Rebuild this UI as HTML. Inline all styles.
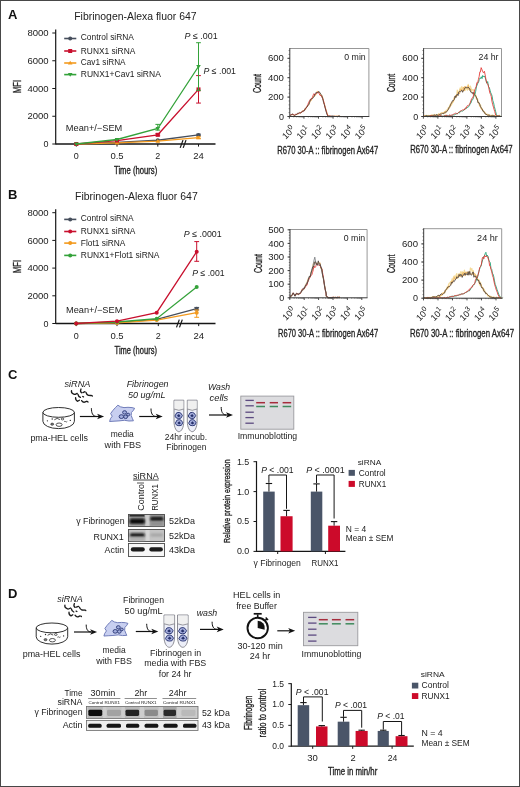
<!DOCTYPE html>
<html><head><meta charset="utf-8"><title>Figure</title>
<style>
html,body{margin:0;padding:0;background:#fff;}
body{width:520px;height:787px;overflow:hidden;}
svg{display:block;filter:blur(0.3px);}
svg text{font-family:"Liberation Sans",sans-serif;}
</style></head>
<body>
<svg width="520" height="787" viewBox="0 0 520 787" font-family="Liberation Sans, sans-serif">
<rect x="0" y="0" width="520" height="787" fill="#fff"/>
<defs><filter id="bl" x="-30%" y="-60%" width="160%" height="220%"><feGaussianBlur stdDeviation="0.9"/></filter><filter id="bl2" x="-30%" y="-60%" width="160%" height="220%"><feGaussianBlur stdDeviation="0.6"/></filter></defs>
<text x="7.90" y="19.30" font-size="13.0" font-weight="bold" fill="#111">A</text>
<text x="74.20" y="19.90" font-size="10" textLength="122.40" lengthAdjust="spacingAndGlyphs" fill="#222">Fibrinogen-Alexa fluor 647</text>
<line x1="55.70" y1="29.60" x2="55.70" y2="144.60" stroke="#161616" stroke-width="1.2"/>
<line x1="52.30" y1="144.00" x2="55.70" y2="144.00" stroke="#161616" stroke-width="1"/>
<text x="43.60" y="147.10" font-size="9.0" textLength="5.00" lengthAdjust="spacingAndGlyphs" fill="#222">0</text>
<line x1="52.30" y1="116.25" x2="55.70" y2="116.25" stroke="#161616" stroke-width="1"/>
<text x="27.40" y="119.35" font-size="9.0" textLength="21.20" lengthAdjust="spacingAndGlyphs" fill="#222">2000</text>
<line x1="52.30" y1="88.50" x2="55.70" y2="88.50" stroke="#161616" stroke-width="1"/>
<text x="27.40" y="91.60" font-size="9.0" textLength="21.20" lengthAdjust="spacingAndGlyphs" fill="#222">4000</text>
<line x1="52.30" y1="60.75" x2="55.70" y2="60.75" stroke="#161616" stroke-width="1"/>
<text x="27.40" y="63.85" font-size="9.0" textLength="21.20" lengthAdjust="spacingAndGlyphs" fill="#222">6000</text>
<line x1="52.30" y1="33.00" x2="55.70" y2="33.00" stroke="#161616" stroke-width="1"/>
<text x="27.40" y="36.10" font-size="9.0" textLength="21.20" lengthAdjust="spacingAndGlyphs" fill="#222">8000</text>
<line x1="55.70" y1="144.00" x2="215.50" y2="144.00" stroke="#161616" stroke-width="1.3"/>
<line x1="76.30" y1="144.00" x2="76.30" y2="146.60" stroke="#161616" stroke-width="1"/>
<text x="73.80" y="158.60" font-size="9.0" textLength="5.00" lengthAdjust="spacingAndGlyphs" fill="#222">0</text>
<line x1="117.00" y1="144.00" x2="117.00" y2="146.60" stroke="#161616" stroke-width="1"/>
<text x="110.40" y="158.60" font-size="9.0" textLength="13.20" lengthAdjust="spacingAndGlyphs" fill="#222">0.5</text>
<line x1="157.80" y1="144.00" x2="157.80" y2="146.60" stroke="#161616" stroke-width="1"/>
<text x="155.30" y="158.60" font-size="9.0" textLength="5.00" lengthAdjust="spacingAndGlyphs" fill="#222">2</text>
<line x1="198.50" y1="144.00" x2="198.50" y2="146.60" stroke="#161616" stroke-width="1"/>
<text x="193.20" y="158.60" font-size="9.0" textLength="10.60" lengthAdjust="spacingAndGlyphs" fill="#222">24</text>
<line x1="180.20" y1="147.90" x2="183.00" y2="140.10" stroke="#161616" stroke-width="1.2"/>
<line x1="183.20" y1="147.90" x2="186.00" y2="140.10" stroke="#161616" stroke-width="1.2"/>
<text x="114.00" y="173.70" font-size="10.0" textLength="43.20" lengthAdjust="spacingAndGlyphs" stroke="#222" stroke-width="0.33" fill="#222">Time (hours)</text>
<text transform="translate(20.60,92.90) rotate(-90)" x="0" y="0" font-size="10.8" textLength="12.90" lengthAdjust="spacingAndGlyphs" stroke="#222" stroke-width="0.33" fill="#222">MFI</text>
<text x="65.80" y="130.60" font-size="8.9" textLength="56.50" lengthAdjust="spacingAndGlyphs" fill="#222">Mean+/−SEM</text>
<line x1="64.20" y1="38.50" x2="76.30" y2="38.50" stroke="#464e5c" stroke-width="1.6"/>
<circle cx="70.20" cy="38.50" r="2" fill="#464e5c"/>
<text x="80.80" y="40.40" font-size="8.6" textLength="53.10" lengthAdjust="spacingAndGlyphs" fill="#222">Control siRNA</text>
<line x1="64.20" y1="51.00" x2="76.30" y2="51.00" stroke="#c8102e" stroke-width="1.6"/>
<rect x="68.20" y="49.00" width="4.00" height="4.00" fill="#c8102e" />
<text x="80.80" y="53.50" font-size="8.6" textLength="54.50" lengthAdjust="spacingAndGlyphs" fill="#222">RUNX1 siRNA</text>
<line x1="64.20" y1="63.00" x2="76.30" y2="63.00" stroke="#f39a1e" stroke-width="1.6"/>
<path d="M67.90,64.60 L72.50,64.60 L70.20,60.80 Z" fill="#f39a1e"/>
<text x="80.80" y="65.30" font-size="8.6" textLength="44.80" lengthAdjust="spacingAndGlyphs" fill="#222">Cav1 siRNA</text>
<line x1="64.20" y1="74.60" x2="76.30" y2="74.60" stroke="#34a23a" stroke-width="1.6"/>
<path d="M67.90,73.00 L72.50,73.00 L70.20,76.80 Z" fill="#34a23a"/>
<text x="80.80" y="77.10" font-size="8.6" textLength="80.00" lengthAdjust="spacingAndGlyphs" fill="#222">RUNX1+Cav1 siRNA</text>
<path d="M76.30,144.00 L117.00,142.34 L157.80,140.25 L198.50,134.98" stroke="#464e5c" stroke-width="1.3" fill="none" />
<line x1="198.50" y1="134.15" x2="198.50" y2="135.81" stroke="#464e5c" stroke-width="1"/>
<line x1="196.10" y1="134.15" x2="200.90" y2="134.15" stroke="#464e5c" stroke-width="1"/>
<line x1="196.10" y1="135.81" x2="200.90" y2="135.81" stroke="#464e5c" stroke-width="1"/>
<circle cx="76.30" cy="144.00" r="2" fill="#464e5c"/>
<circle cx="117.00" cy="142.34" r="2" fill="#464e5c"/>
<circle cx="157.80" cy="140.25" r="2" fill="#464e5c"/>
<circle cx="198.50" cy="134.98" r="2" fill="#464e5c"/>
<path d="M76.30,144.00 L117.00,142.82 L157.80,141.10 L198.50,137.70" stroke="#f39a1e" stroke-width="1.3" fill="none" />
<line x1="198.50" y1="136.78" x2="198.50" y2="138.59" stroke="#f39a1e" stroke-width="1"/>
<line x1="196.10" y1="136.78" x2="200.90" y2="136.78" stroke="#f39a1e" stroke-width="1"/>
<line x1="196.10" y1="138.59" x2="200.90" y2="138.59" stroke="#f39a1e" stroke-width="1"/>
<path d="M74.00,145.60 L78.60,145.60 L76.30,141.80 Z" fill="#f39a1e"/>
<path d="M114.70,144.42 L119.30,144.42 L117.00,140.62 Z" fill="#f39a1e"/>
<path d="M155.50,142.70 L160.10,142.70 L157.80,138.90 Z" fill="#f39a1e"/>
<path d="M196.20,139.30 L200.80,139.30 L198.50,135.50 Z" fill="#f39a1e"/>
<path d="M76.30,144.00 L117.00,140.53 L157.80,134.80 L198.50,89.40" stroke="#c8102e" stroke-width="1.3" fill="none" />
<line x1="157.80" y1="133.73" x2="157.80" y2="135.81" stroke="#c8102e" stroke-width="1"/>
<line x1="155.40" y1="133.73" x2="160.20" y2="133.73" stroke="#c8102e" stroke-width="1"/>
<line x1="155.40" y1="135.81" x2="160.20" y2="135.81" stroke="#c8102e" stroke-width="1"/>
<line x1="198.50" y1="75.60" x2="198.50" y2="103.07" stroke="#c8102e" stroke-width="1"/>
<line x1="196.10" y1="75.60" x2="200.90" y2="75.60" stroke="#c8102e" stroke-width="1"/>
<line x1="196.10" y1="103.07" x2="200.90" y2="103.07" stroke="#c8102e" stroke-width="1"/>
<rect x="74.30" y="142.00" width="4.00" height="4.00" fill="#c8102e" />
<rect x="115.00" y="138.53" width="4.00" height="4.00" fill="#c8102e" />
<rect x="155.80" y="132.80" width="4.00" height="4.00" fill="#c8102e" />
<rect x="196.50" y="87.40" width="4.00" height="4.00" fill="#c8102e" />
<path d="M76.30,144.00 L117.00,139.49 L157.80,128.50 L198.50,66.51" stroke="#34a23a" stroke-width="1.3" fill="none" />
<line x1="157.80" y1="124.39" x2="157.80" y2="130.12" stroke="#34a23a" stroke-width="1"/>
<line x1="155.40" y1="124.39" x2="160.20" y2="124.39" stroke="#34a23a" stroke-width="1"/>
<line x1="155.40" y1="130.12" x2="160.20" y2="130.12" stroke="#34a23a" stroke-width="1"/>
<line x1="198.50" y1="42.71" x2="198.50" y2="90.30" stroke="#34a23a" stroke-width="1"/>
<line x1="196.10" y1="42.71" x2="200.90" y2="42.71" stroke="#34a23a" stroke-width="1"/>
<line x1="196.10" y1="90.30" x2="200.90" y2="90.30" stroke="#34a23a" stroke-width="1"/>
<path d="M74.00,142.40 L78.60,142.40 L76.30,146.20 Z" fill="#34a23a"/>
<path d="M114.70,137.89 L119.30,137.89 L117.00,141.69 Z" fill="#34a23a"/>
<path d="M155.50,126.90 L160.10,126.90 L157.80,130.70 Z" fill="#34a23a"/>
<path d="M196.20,64.91 L200.80,64.91 L198.50,68.71 Z" fill="#34a23a"/>
<text x="184.60" y="39.00" font-size="9.0" textLength="33.10" lengthAdjust="spacingAndGlyphs" fill="#222"><tspan font-style="italic">P</tspan> ≤ .001</text>
<text x="203.50" y="74.20" font-size="9.0" textLength="32.50" lengthAdjust="spacingAndGlyphs" fill="#222"><tspan font-style="italic">P</tspan> ≤ .001</text>
<text x="7.90" y="199.20" font-size="13.0" font-weight="bold" fill="#111">B</text>
<text x="75.00" y="199.80" font-size="10" textLength="122.70" lengthAdjust="spacingAndGlyphs" fill="#222">Fibrinogen-Alexa fluor 647</text>
<line x1="55.70" y1="209.30" x2="55.70" y2="324.10" stroke="#161616" stroke-width="1.2"/>
<line x1="52.30" y1="323.50" x2="55.70" y2="323.50" stroke="#161616" stroke-width="1"/>
<text x="43.60" y="326.60" font-size="9.0" textLength="5.00" lengthAdjust="spacingAndGlyphs" fill="#222">0</text>
<line x1="52.30" y1="295.80" x2="55.70" y2="295.80" stroke="#161616" stroke-width="1"/>
<text x="27.40" y="298.90" font-size="9.0" textLength="21.20" lengthAdjust="spacingAndGlyphs" fill="#222">2000</text>
<line x1="52.30" y1="268.10" x2="55.70" y2="268.10" stroke="#161616" stroke-width="1"/>
<text x="27.40" y="271.20" font-size="9.0" textLength="21.20" lengthAdjust="spacingAndGlyphs" fill="#222">4000</text>
<line x1="52.30" y1="240.40" x2="55.70" y2="240.40" stroke="#161616" stroke-width="1"/>
<text x="27.40" y="243.50" font-size="9.0" textLength="21.20" lengthAdjust="spacingAndGlyphs" fill="#222">6000</text>
<line x1="52.30" y1="212.70" x2="55.70" y2="212.70" stroke="#161616" stroke-width="1"/>
<text x="27.40" y="215.80" font-size="9.0" textLength="21.20" lengthAdjust="spacingAndGlyphs" fill="#222">8000</text>
<line x1="55.70" y1="323.50" x2="215.50" y2="323.50" stroke="#161616" stroke-width="1.3"/>
<line x1="76.30" y1="323.50" x2="76.30" y2="326.10" stroke="#161616" stroke-width="1"/>
<text x="73.80" y="339.00" font-size="9.0" textLength="5.00" lengthAdjust="spacingAndGlyphs" fill="#222">0</text>
<line x1="117.00" y1="323.50" x2="117.00" y2="326.10" stroke="#161616" stroke-width="1"/>
<text x="110.40" y="339.00" font-size="9.0" textLength="13.20" lengthAdjust="spacingAndGlyphs" fill="#222">0.5</text>
<line x1="158.30" y1="323.50" x2="158.30" y2="326.10" stroke="#161616" stroke-width="1"/>
<text x="155.80" y="339.00" font-size="9.0" textLength="5.00" lengthAdjust="spacingAndGlyphs" fill="#222">2</text>
<line x1="198.70" y1="323.50" x2="198.70" y2="326.10" stroke="#161616" stroke-width="1"/>
<text x="193.40" y="339.00" font-size="9.0" textLength="10.60" lengthAdjust="spacingAndGlyphs" fill="#222">24</text>
<line x1="176.50" y1="327.40" x2="179.30" y2="319.60" stroke="#161616" stroke-width="1.2"/>
<line x1="179.50" y1="327.40" x2="182.30" y2="319.60" stroke="#161616" stroke-width="1.2"/>
<text x="114.60" y="354.20" font-size="10.0" textLength="42.30" lengthAdjust="spacingAndGlyphs" stroke="#222" stroke-width="0.33" fill="#222">Time (hours)</text>
<text transform="translate(20.60,272.90) rotate(-90)" x="0" y="0" font-size="10.8" textLength="12.90" lengthAdjust="spacingAndGlyphs" stroke="#222" stroke-width="0.33" fill="#222">MFI</text>
<text x="66.00" y="312.90" font-size="8.9" textLength="56.30" lengthAdjust="spacingAndGlyphs" fill="#222">Mean+/−SEM</text>
<line x1="64.20" y1="219.40" x2="76.30" y2="219.40" stroke="#464e5c" stroke-width="1.6"/>
<circle cx="70.20" cy="219.40" r="2" fill="#464e5c"/>
<text x="80.80" y="221.40" font-size="8.6" textLength="52.90" lengthAdjust="spacingAndGlyphs" fill="#222">Control siRNA</text>
<line x1="64.20" y1="231.50" x2="76.30" y2="231.50" stroke="#c8102e" stroke-width="1.6"/>
<circle cx="70.20" cy="231.50" r="2" fill="#c8102e"/>
<text x="80.80" y="234.20" font-size="8.6" textLength="54.60" lengthAdjust="spacingAndGlyphs" fill="#222">RUNX1 siRNA</text>
<line x1="64.20" y1="243.10" x2="76.30" y2="243.10" stroke="#f39a1e" stroke-width="1.6"/>
<circle cx="70.20" cy="243.10" r="2" fill="#f39a1e"/>
<text x="80.80" y="246.00" font-size="8.6" textLength="44.60" lengthAdjust="spacingAndGlyphs" fill="#222">Flot1 siRNA</text>
<line x1="64.20" y1="255.40" x2="76.30" y2="255.40" stroke="#34a23a" stroke-width="1.6"/>
<circle cx="70.20" cy="255.40" r="2" fill="#34a23a"/>
<text x="80.80" y="257.90" font-size="8.6" textLength="78.70" lengthAdjust="spacingAndGlyphs" fill="#222">RUNX1+Flot1 siRNA</text>
<path d="M76.20,323.50 L117.00,322.67 L156.70,319.48 L196.70,308.69" stroke="#464e5c" stroke-width="1.3" fill="none" />
<line x1="196.70" y1="307.43" x2="196.70" y2="309.93" stroke="#464e5c" stroke-width="1"/>
<line x1="194.30" y1="307.43" x2="199.10" y2="307.43" stroke="#464e5c" stroke-width="1"/>
<line x1="194.30" y1="309.93" x2="199.10" y2="309.93" stroke="#464e5c" stroke-width="1"/>
<circle cx="76.20" cy="323.50" r="2" fill="#464e5c"/>
<circle cx="117.00" cy="322.67" r="2" fill="#464e5c"/>
<circle cx="156.70" cy="319.48" r="2" fill="#464e5c"/>
<circle cx="196.70" cy="308.69" r="2" fill="#464e5c"/>
<path d="M76.20,323.50 L117.00,322.95 L156.70,320.04 L196.70,312.70" stroke="#f39a1e" stroke-width="1.3" fill="none" />
<line x1="196.70" y1="310.00" x2="196.70" y2="317.30" stroke="#f39a1e" stroke-width="1"/>
<line x1="194.30" y1="310.00" x2="199.10" y2="310.00" stroke="#f39a1e" stroke-width="1"/>
<line x1="194.30" y1="317.30" x2="199.10" y2="317.30" stroke="#f39a1e" stroke-width="1"/>
<circle cx="76.20" cy="323.50" r="2" fill="#f39a1e"/>
<circle cx="117.00" cy="322.95" r="2" fill="#f39a1e"/>
<circle cx="156.70" cy="320.04" r="2" fill="#f39a1e"/>
<circle cx="196.70" cy="312.70" r="2" fill="#f39a1e"/>
<path d="M76.20,323.50 L117.00,321.98 L156.70,318.69 L196.70,286.89" stroke="#34a23a" stroke-width="1.3" fill="none" />
<circle cx="76.20" cy="323.50" r="2" fill="#34a23a"/>
<circle cx="117.00" cy="321.98" r="2" fill="#34a23a"/>
<circle cx="156.70" cy="318.69" r="2" fill="#34a23a"/>
<circle cx="196.70" cy="286.89" r="2" fill="#34a23a"/>
<path d="M76.20,323.50 L117.00,321.21 L156.70,312.70 L196.70,251.70" stroke="#c8102e" stroke-width="1.3" fill="none" />
<line x1="196.70" y1="241.60" x2="196.70" y2="261.30" stroke="#c8102e" stroke-width="1"/>
<line x1="194.30" y1="241.60" x2="199.10" y2="241.60" stroke="#c8102e" stroke-width="1"/>
<line x1="194.30" y1="261.30" x2="199.10" y2="261.30" stroke="#c8102e" stroke-width="1"/>
<circle cx="76.20" cy="323.50" r="2" fill="#c8102e"/>
<circle cx="117.00" cy="321.21" r="2" fill="#c8102e"/>
<circle cx="156.70" cy="312.70" r="2" fill="#c8102e"/>
<circle cx="196.70" cy="251.70" r="2" fill="#c8102e"/>
<text x="183.80" y="237.30" font-size="9.0" textLength="37.90" lengthAdjust="spacingAndGlyphs" fill="#222"><tspan font-style="italic">P</tspan> ≤ .0001</text>
<text x="192.30" y="275.60" font-size="9.0" textLength="32.30" lengthAdjust="spacingAndGlyphs" fill="#222"><tspan font-style="italic">P</tspan> ≤ .001</text>
<path d="M290.20,115.69 L290.80,115.47 L291.66,114.37 L292.50,114.73 L293.24,114.39 L293.97,115.03 L294.70,115.59 L295.36,114.92 L296.01,115.06 L296.90,114.11 L297.50,114.28 L298.21,113.95 L298.97,113.20 L299.75,112.32 L300.51,112.91 L301.20,112.44 L301.95,111.48 L302.66,110.66 L303.35,110.83 L304.02,110.64 L304.70,109.09 L305.58,109.63 L306.46,106.91 L307.31,106.70 L308.10,105.79 L308.99,104.41 L309.80,102.54 L310.70,99.74 L311.35,100.48 L312.06,98.39 L312.79,97.21 L313.52,97.03 L314.20,95.57 L315.00,95.99 L315.78,94.88 L316.52,93.42 L317.20,91.12 L317.98,91.86 L318.67,92.64 L319.40,92.36 L320.27,93.74 L321.19,95.46 L322.00,95.31 L322.91,98.06 L323.70,102.01 L324.54,104.25 L325.40,107.55 L326.33,110.36 L327.20,113.55 L328.40,116.28 L328.87,115.81 L329.45,116.50 L330.12,116.34 L330.88,116.10 L331.70,116.50 L332.57,116.32 L333.46,116.50 L334.38,116.15 L335.28,116.05 L336.17,116.17 L337.03,115.91 L337.83,116.32 L338.57,116.00 L339.22,116.06 L339.77,116.05 L340.20,116.15" stroke="#f0b25a" stroke-width="0.9" fill="none" stroke-linejoin="round" opacity="0.95"/>
<path d="M290.00,115.22 L290.60,114.70 L291.46,114.60 L292.30,114.10 L293.04,114.91 L293.77,114.72 L294.50,115.00 L295.16,114.49 L295.81,114.25 L296.70,114.30 L297.30,113.93 L298.01,113.32 L298.77,113.71 L299.55,112.87 L300.31,112.87 L301.00,112.60 L301.75,112.33 L302.46,111.11 L303.15,111.59 L303.82,110.99 L304.50,110.16 L305.38,108.29 L306.26,108.14 L307.11,106.04 L307.90,104.48 L308.79,102.19 L309.60,100.78 L310.50,99.09 L311.15,99.47 L311.86,98.06 L312.59,97.15 L313.32,94.71 L314.00,93.61 L314.80,95.01 L315.58,94.18 L316.32,93.43 L317.00,93.07 L317.78,92.23 L318.47,92.24 L319.20,93.83 L320.07,95.48 L320.99,95.47 L321.80,96.96 L322.71,98.81 L323.50,100.66 L324.34,104.28 L325.20,107.74 L326.13,110.89 L327.00,113.69 L328.20,116.46 L328.67,115.96 L329.25,116.10 L329.93,116.07 L330.68,116.14 L331.50,116.43 L332.37,116.42 L333.26,116.50 L334.17,116.23 L335.08,116.50 L335.97,116.50 L336.83,116.45 L337.63,116.45 L338.37,116.31 L339.02,116.48 L339.57,116.50 L340.00,116.40" stroke="#e2332f" stroke-width="0.9" fill="none" stroke-linejoin="round" opacity="0.95"/>
<path d="M290.00,115.89 L290.60,115.25 L291.46,115.05 L292.30,113.89 L293.04,114.36 L293.77,115.25 L294.50,115.38 L295.16,115.11 L295.81,114.70 L296.70,114.47 L297.30,113.43 L298.01,112.96 L298.77,113.21 L299.55,112.85 L300.31,112.97 L301.00,112.62 L301.75,111.96 L302.46,111.72 L303.15,110.62 L303.82,111.06 L304.50,110.68 L305.38,108.30 L306.26,107.72 L307.11,107.09 L307.90,105.17 L308.79,104.73 L309.60,102.29 L310.50,99.80 L311.15,99.09 L311.86,98.49 L312.59,98.59 L313.32,97.38 L314.00,97.03 L314.80,94.22 L315.58,93.74 L316.32,92.02 L317.00,92.77 L317.78,92.95 L318.47,91.51 L319.20,91.67 L320.07,93.01 L320.99,94.38 L321.80,95.76 L322.71,98.39 L323.50,102.26 L324.34,104.61 L325.20,108.01 L326.13,111.67 L327.00,114.38 L328.20,116.31 L328.67,116.40 L329.25,116.16 L329.93,116.01 L330.68,116.38 L331.50,116.06 L332.37,116.02 L333.26,116.03 L334.17,116.42 L335.08,116.49 L335.97,116.46 L336.83,116.45 L337.63,116.42 L338.37,116.11 L339.02,115.91 L339.57,115.93 L340.00,116.17" stroke="#504440" stroke-width="0.9" fill="none" stroke-linejoin="round" opacity="0.95"/>
<path d="M289.80,48.50 H368.90 V116.50" stroke="#8c8c8c" stroke-width="0.9" fill="none"/>
<line x1="289.80" y1="48.10" x2="289.80" y2="117.00" stroke="#3a3a3a" stroke-width="1"/>
<line x1="289.30" y1="116.50" x2="369.30" y2="116.50" stroke="#3a3a3a" stroke-width="1"/>
<line x1="287.40" y1="116.50" x2="289.80" y2="116.50" stroke="#3a3a3a" stroke-width="1"/>
<text x="278.90" y="119.60" font-size="9.0" textLength="5.00" lengthAdjust="spacingAndGlyphs" fill="#222">0</text>
<line x1="287.40" y1="97.10" x2="289.80" y2="97.10" stroke="#3a3a3a" stroke-width="1"/>
<text x="267.90" y="100.20" font-size="9.0" textLength="16.00" lengthAdjust="spacingAndGlyphs" fill="#222">200</text>
<line x1="287.40" y1="77.70" x2="289.80" y2="77.70" stroke="#3a3a3a" stroke-width="1"/>
<text x="267.90" y="80.80" font-size="9.0" textLength="16.00" lengthAdjust="spacingAndGlyphs" fill="#222">400</text>
<line x1="287.40" y1="58.30" x2="289.80" y2="58.30" stroke="#3a3a3a" stroke-width="1"/>
<text x="267.90" y="61.40" font-size="9.0" textLength="16.00" lengthAdjust="spacingAndGlyphs" fill="#222">600</text>
<line x1="288.60" y1="116.50" x2="289.80" y2="116.50" stroke="#3a3a3a" stroke-width="0.6"/>
<line x1="288.60" y1="112.62" x2="289.80" y2="112.62" stroke="#3a3a3a" stroke-width="0.6"/>
<line x1="288.60" y1="108.74" x2="289.80" y2="108.74" stroke="#3a3a3a" stroke-width="0.6"/>
<line x1="288.60" y1="104.86" x2="289.80" y2="104.86" stroke="#3a3a3a" stroke-width="0.6"/>
<line x1="288.60" y1="100.98" x2="289.80" y2="100.98" stroke="#3a3a3a" stroke-width="0.6"/>
<line x1="288.60" y1="97.10" x2="289.80" y2="97.10" stroke="#3a3a3a" stroke-width="0.6"/>
<line x1="288.60" y1="93.22" x2="289.80" y2="93.22" stroke="#3a3a3a" stroke-width="0.6"/>
<line x1="288.60" y1="89.34" x2="289.80" y2="89.34" stroke="#3a3a3a" stroke-width="0.6"/>
<line x1="288.60" y1="85.46" x2="289.80" y2="85.46" stroke="#3a3a3a" stroke-width="0.6"/>
<line x1="288.60" y1="81.58" x2="289.80" y2="81.58" stroke="#3a3a3a" stroke-width="0.6"/>
<line x1="288.60" y1="77.70" x2="289.80" y2="77.70" stroke="#3a3a3a" stroke-width="0.6"/>
<line x1="288.60" y1="73.82" x2="289.80" y2="73.82" stroke="#3a3a3a" stroke-width="0.6"/>
<line x1="288.60" y1="69.94" x2="289.80" y2="69.94" stroke="#3a3a3a" stroke-width="0.6"/>
<line x1="288.60" y1="66.06" x2="289.80" y2="66.06" stroke="#3a3a3a" stroke-width="0.6"/>
<line x1="288.60" y1="62.18" x2="289.80" y2="62.18" stroke="#3a3a3a" stroke-width="0.6"/>
<line x1="288.60" y1="58.30" x2="289.80" y2="58.30" stroke="#3a3a3a" stroke-width="0.6"/>
<line x1="288.60" y1="54.42" x2="289.80" y2="54.42" stroke="#3a3a3a" stroke-width="0.6"/>
<line x1="288.60" y1="50.54" x2="289.80" y2="50.54" stroke="#3a3a3a" stroke-width="0.6"/>
<line x1="289.40" y1="116.50" x2="289.40" y2="118.70" stroke="#3a3a3a" stroke-width="0.9"/>
<line x1="293.78" y1="116.50" x2="293.78" y2="117.50" stroke="#3a3a3a" stroke-width="0.5"/>
<line x1="296.34" y1="116.50" x2="296.34" y2="117.50" stroke="#3a3a3a" stroke-width="0.5"/>
<line x1="298.16" y1="116.50" x2="298.16" y2="117.50" stroke="#3a3a3a" stroke-width="0.5"/>
<line x1="299.57" y1="116.50" x2="299.57" y2="117.50" stroke="#3a3a3a" stroke-width="0.5"/>
<line x1="300.72" y1="116.50" x2="300.72" y2="117.50" stroke="#3a3a3a" stroke-width="0.5"/>
<line x1="301.70" y1="116.50" x2="301.70" y2="117.50" stroke="#3a3a3a" stroke-width="0.5"/>
<line x1="302.54" y1="116.50" x2="302.54" y2="117.50" stroke="#3a3a3a" stroke-width="0.5"/>
<line x1="303.28" y1="116.50" x2="303.28" y2="117.50" stroke="#3a3a3a" stroke-width="0.5"/>
<text transform="translate(295.60,129.90) rotate(-45)" x="0" y="0" font-size="9.0" text-anchor="end" fill="#222">10<tspan font-size="7.2" dy="-3.6">0</tspan></text>
<line x1="303.95" y1="116.50" x2="303.95" y2="118.70" stroke="#3a3a3a" stroke-width="0.9"/>
<line x1="308.33" y1="116.50" x2="308.33" y2="117.50" stroke="#3a3a3a" stroke-width="0.5"/>
<line x1="310.89" y1="116.50" x2="310.89" y2="117.50" stroke="#3a3a3a" stroke-width="0.5"/>
<line x1="312.71" y1="116.50" x2="312.71" y2="117.50" stroke="#3a3a3a" stroke-width="0.5"/>
<line x1="314.12" y1="116.50" x2="314.12" y2="117.50" stroke="#3a3a3a" stroke-width="0.5"/>
<line x1="315.27" y1="116.50" x2="315.27" y2="117.50" stroke="#3a3a3a" stroke-width="0.5"/>
<line x1="316.25" y1="116.50" x2="316.25" y2="117.50" stroke="#3a3a3a" stroke-width="0.5"/>
<line x1="317.09" y1="116.50" x2="317.09" y2="117.50" stroke="#3a3a3a" stroke-width="0.5"/>
<line x1="317.83" y1="116.50" x2="317.83" y2="117.50" stroke="#3a3a3a" stroke-width="0.5"/>
<text transform="translate(310.15,129.90) rotate(-45)" x="0" y="0" font-size="9.0" text-anchor="end" fill="#222">10<tspan font-size="7.2" dy="-3.6">1</tspan></text>
<line x1="318.50" y1="116.50" x2="318.50" y2="118.70" stroke="#3a3a3a" stroke-width="0.9"/>
<line x1="322.88" y1="116.50" x2="322.88" y2="117.50" stroke="#3a3a3a" stroke-width="0.5"/>
<line x1="325.44" y1="116.50" x2="325.44" y2="117.50" stroke="#3a3a3a" stroke-width="0.5"/>
<line x1="327.26" y1="116.50" x2="327.26" y2="117.50" stroke="#3a3a3a" stroke-width="0.5"/>
<line x1="328.67" y1="116.50" x2="328.67" y2="117.50" stroke="#3a3a3a" stroke-width="0.5"/>
<line x1="329.82" y1="116.50" x2="329.82" y2="117.50" stroke="#3a3a3a" stroke-width="0.5"/>
<line x1="330.80" y1="116.50" x2="330.80" y2="117.50" stroke="#3a3a3a" stroke-width="0.5"/>
<line x1="331.64" y1="116.50" x2="331.64" y2="117.50" stroke="#3a3a3a" stroke-width="0.5"/>
<line x1="332.38" y1="116.50" x2="332.38" y2="117.50" stroke="#3a3a3a" stroke-width="0.5"/>
<text transform="translate(324.70,129.90) rotate(-45)" x="0" y="0" font-size="9.0" text-anchor="end" fill="#222">10<tspan font-size="7.2" dy="-3.6">2</tspan></text>
<line x1="333.05" y1="116.50" x2="333.05" y2="118.70" stroke="#3a3a3a" stroke-width="0.9"/>
<line x1="337.43" y1="116.50" x2="337.43" y2="117.50" stroke="#3a3a3a" stroke-width="0.5"/>
<line x1="339.99" y1="116.50" x2="339.99" y2="117.50" stroke="#3a3a3a" stroke-width="0.5"/>
<line x1="341.81" y1="116.50" x2="341.81" y2="117.50" stroke="#3a3a3a" stroke-width="0.5"/>
<line x1="343.22" y1="116.50" x2="343.22" y2="117.50" stroke="#3a3a3a" stroke-width="0.5"/>
<line x1="344.37" y1="116.50" x2="344.37" y2="117.50" stroke="#3a3a3a" stroke-width="0.5"/>
<line x1="345.35" y1="116.50" x2="345.35" y2="117.50" stroke="#3a3a3a" stroke-width="0.5"/>
<line x1="346.19" y1="116.50" x2="346.19" y2="117.50" stroke="#3a3a3a" stroke-width="0.5"/>
<line x1="346.93" y1="116.50" x2="346.93" y2="117.50" stroke="#3a3a3a" stroke-width="0.5"/>
<text transform="translate(339.25,129.90) rotate(-45)" x="0" y="0" font-size="9.0" text-anchor="end" fill="#222">10<tspan font-size="7.2" dy="-3.6">3</tspan></text>
<line x1="347.60" y1="116.50" x2="347.60" y2="118.70" stroke="#3a3a3a" stroke-width="0.9"/>
<line x1="351.98" y1="116.50" x2="351.98" y2="117.50" stroke="#3a3a3a" stroke-width="0.5"/>
<line x1="354.54" y1="116.50" x2="354.54" y2="117.50" stroke="#3a3a3a" stroke-width="0.5"/>
<line x1="356.36" y1="116.50" x2="356.36" y2="117.50" stroke="#3a3a3a" stroke-width="0.5"/>
<line x1="357.77" y1="116.50" x2="357.77" y2="117.50" stroke="#3a3a3a" stroke-width="0.5"/>
<line x1="358.92" y1="116.50" x2="358.92" y2="117.50" stroke="#3a3a3a" stroke-width="0.5"/>
<line x1="359.90" y1="116.50" x2="359.90" y2="117.50" stroke="#3a3a3a" stroke-width="0.5"/>
<line x1="360.74" y1="116.50" x2="360.74" y2="117.50" stroke="#3a3a3a" stroke-width="0.5"/>
<line x1="361.48" y1="116.50" x2="361.48" y2="117.50" stroke="#3a3a3a" stroke-width="0.5"/>
<text transform="translate(353.80,129.90) rotate(-45)" x="0" y="0" font-size="9.0" text-anchor="end" fill="#222">10<tspan font-size="7.2" dy="-3.6">4</tspan></text>
<line x1="362.15" y1="116.50" x2="362.15" y2="118.70" stroke="#3a3a3a" stroke-width="0.9"/>
<text transform="translate(368.35,129.90) rotate(-45)" x="0" y="0" font-size="9.0" text-anchor="end" fill="#222">10<tspan font-size="7.2" dy="-3.6">5</tspan></text>
<text transform="translate(261.00,93.10) rotate(-90)" x="0" y="0" font-size="10.4" textLength="19.20" lengthAdjust="spacingAndGlyphs" stroke="#222" stroke-width="0.33" fill="#222">Count</text>
<text x="344.30" y="59.50" font-size="8.6" textLength="21.40" lengthAdjust="spacingAndGlyphs" fill="#222">0 min</text>
<text x="277.30" y="153.60" font-size="10.9" textLength="100.90" lengthAdjust="spacingAndGlyphs" stroke="#222" stroke-width="0.33" fill="#222">R670 30-A :: fibrinogen Ax647</text>
<path d="M424.00,115.26 L424.43,115.65 L424.97,116.50 L425.60,115.85 L426.32,115.37 L427.10,115.56 L427.91,115.58 L428.75,116.04 L429.60,116.50 L430.44,115.34 L431.24,116.13 L432.00,115.15 L432.73,114.72 L433.47,115.73 L434.21,115.62 L434.96,114.43 L435.70,114.75 L436.44,115.74 L437.17,115.69 L437.90,115.49 L438.61,113.72 L439.31,113.73 L440.00,114.95 L440.82,113.16 L441.63,112.52 L442.42,112.99 L443.20,113.43 L443.97,112.61 L444.72,113.29 L445.46,113.18 L446.19,110.02 L446.90,110.24 L447.69,109.72 L448.46,107.34 L449.21,107.85 L449.94,104.99 L450.66,103.82 L451.36,105.10 L452.04,103.75 L452.70,102.45 L453.55,101.23 L454.36,97.85 L455.14,98.10 L455.89,95.72 L456.61,96.21 L457.30,90.17 L458.08,92.90 L458.82,91.65 L459.51,90.44 L460.17,87.91 L460.80,90.86 L461.75,86.52 L462.61,88.71 L463.50,87.77 L464.24,87.31 L465.01,90.67 L465.78,87.03 L466.50,88.79 L467.39,90.19 L468.21,84.28 L469.00,89.47 L469.68,87.51 L470.31,86.08 L471.10,88.11 L471.71,90.40 L472.40,89.71 L473.13,90.28 L473.88,89.73 L474.60,95.38 L475.30,93.93 L476.00,97.52 L476.71,99.14 L477.41,98.39 L478.10,101.43 L478.93,103.06 L479.73,104.04 L480.57,105.22 L481.50,108.54 L482.20,109.07 L482.94,110.50 L483.73,111.54 L484.52,112.08 L485.32,113.56 L486.10,114.10 L486.88,114.77 L487.68,114.24 L488.48,115.04 L489.26,114.93 L490.01,115.00 L490.70,116.46 L491.55,115.43 L492.26,115.00 L493.02,115.22 L494.00,116.30 L494.66,116.35 L495.45,115.89 L496.32,116.43 L497.21,116.18 L498.07,116.41 L498.86,115.54 L499.52,115.36 L500.00,115.19" stroke="#f3d995" stroke-width="1.2" fill="none" stroke-linejoin="round" opacity="0.95"/>
<path d="M424.00,116.04 L424.43,115.90 L424.97,115.95 L425.60,116.50 L426.32,115.60 L427.10,115.45 L427.91,116.42 L428.75,115.39 L429.60,116.08 L430.44,115.90 L431.24,115.13 L432.00,115.26 L432.73,116.11 L433.47,115.63 L434.21,115.41 L434.96,115.55 L435.70,115.65 L436.44,115.34 L437.17,114.59 L437.90,115.50 L438.61,114.50 L439.31,114.48 L440.00,114.95 L440.82,114.18 L441.63,113.43 L442.42,113.34 L443.20,113.84 L443.97,111.84 L444.72,111.79 L445.46,110.95 L446.19,112.14 L446.90,111.18 L447.69,110.83 L448.46,108.07 L449.21,108.17 L449.94,107.37 L450.66,105.30 L451.36,102.51 L452.04,101.53 L452.70,102.31 L453.55,101.32 L454.36,96.93 L455.14,96.87 L455.89,94.98 L456.61,96.51 L457.30,95.75 L458.08,91.98 L458.82,92.70 L459.51,94.06 L460.17,89.51 L460.80,90.61 L461.75,88.97 L462.61,91.91 L463.50,87.17 L464.24,90.89 L465.01,86.10 L465.78,87.93 L466.50,88.34 L467.39,87.16 L468.21,85.35 L469.00,89.32 L469.68,90.40 L470.31,88.69 L471.10,90.93 L471.71,92.17 L472.40,92.56 L473.13,93.87 L473.88,94.03 L474.60,94.57 L475.30,95.90 L476.00,95.50 L476.71,99.08 L477.41,99.91 L478.10,102.59 L478.93,103.77 L479.73,106.46 L480.57,107.40 L481.50,109.55 L482.20,108.89 L482.94,110.41 L483.73,112.20 L484.52,112.61 L485.32,112.69 L486.10,114.81 L486.88,114.23 L487.68,115.23 L488.48,115.43 L489.26,115.18 L490.01,115.98 L490.70,116.01 L491.55,115.51 L492.26,115.32 L493.02,116.08 L494.00,115.61 L494.66,115.77 L495.45,115.86 L496.32,116.10 L497.21,116.16 L498.07,116.46 L498.86,116.37 L499.52,116.43 L500.00,115.71" stroke="#f0b25a" stroke-width="0.9" fill="none" stroke-linejoin="round" opacity="0.95"/>
<path d="M424.00,115.99 L424.43,116.50 L424.97,116.50 L425.60,115.77 L426.32,115.71 L427.10,115.89 L427.91,116.28 L428.75,116.28 L429.60,116.18 L430.44,115.93 L431.24,116.20 L432.00,115.79 L432.73,115.90 L433.47,115.00 L434.21,114.87 L434.96,115.26 L435.70,115.51 L436.44,114.50 L437.17,115.16 L437.90,114.94 L438.61,115.22 L439.31,114.54 L440.00,114.21 L440.82,113.90 L441.63,114.05 L442.42,113.36 L443.20,113.79 L443.97,113.08 L444.72,112.97 L445.46,112.04 L446.19,112.09 L446.90,111.51 L447.69,110.15 L448.46,109.25 L449.21,107.36 L449.94,106.22 L450.66,104.39 L451.36,103.33 L452.04,101.96 L452.70,100.38 L453.55,100.46 L454.36,99.38 L455.14,95.98 L455.89,97.66 L456.61,94.63 L457.30,94.05 L458.08,95.54 L458.82,92.02 L459.51,91.43 L460.17,92.13 L460.80,91.32 L461.75,90.24 L462.61,92.27 L463.50,90.02 L464.24,89.62 L465.01,87.72 L465.78,87.46 L466.50,87.13 L467.39,88.20 L468.21,87.09 L469.00,88.35 L469.68,88.64 L470.31,91.04 L471.10,92.55 L471.71,92.69 L472.40,92.43 L473.13,94.20 L473.88,92.28 L474.60,94.36 L475.30,95.32 L476.00,96.70 L476.71,97.99 L477.41,100.07 L478.10,102.88 L478.93,102.43 L479.73,104.37 L480.57,106.70 L481.50,108.28 L482.20,109.13 L482.94,111.28 L483.73,111.19 L484.52,112.94 L485.32,114.05 L486.10,114.48 L486.88,114.44 L487.68,115.49 L488.48,115.14 L489.26,115.10 L490.01,115.84 L490.70,116.14 L491.55,115.82 L492.26,115.78 L493.02,115.78 L494.00,115.96 L494.66,115.96 L495.45,116.47 L496.32,116.41 L497.21,116.31 L498.07,115.87 L498.86,116.25 L499.52,116.01 L500.00,116.49" stroke="#504440" stroke-width="0.9" fill="none" stroke-linejoin="round" opacity="0.95"/>
<path d="M424.90,116.46 L425.31,116.31 L425.79,116.03 L426.35,116.01 L426.97,116.01 L427.65,116.26 L428.38,116.10 L429.15,116.12 L429.96,116.11 L430.80,116.33 L431.65,115.79 L432.52,116.25 L433.40,115.71 L434.28,115.72 L435.14,116.33 L436.00,116.01 L436.82,115.75 L437.62,115.64 L438.38,115.97 L439.10,116.08 L439.76,116.10 L440.36,115.58 L440.90,116.07 L442.13,116.09 L443.11,116.41 L443.90,116.02 L444.56,115.59 L445.13,116.24 L445.67,115.58 L446.24,115.78 L446.90,115.38 L447.70,115.48 L448.46,115.86 L449.21,115.23 L449.96,115.55 L450.73,115.89 L451.54,115.79 L452.40,115.15 L453.04,115.02 L453.71,114.97 L454.39,114.91 L455.10,114.47 L455.81,114.25 L456.54,113.42 L457.26,114.03 L457.98,112.90 L458.70,112.47 L459.40,112.97 L460.18,111.61 L460.98,111.46 L461.79,110.78 L462.60,111.14 L463.40,110.57 L464.17,110.06 L464.92,108.67 L465.63,108.75 L466.30,108.57 L467.21,107.64 L468.05,107.05 L468.82,106.58 L469.54,105.57 L470.23,103.13 L470.90,103.18 L471.83,100.01 L472.67,99.76 L473.47,97.76 L474.30,94.94 L474.99,93.92 L475.69,91.20 L476.40,86.98 L477.10,85.00 L477.80,83.30 L478.53,82.29 L479.30,79.54 L480.05,77.97 L480.73,78.42 L481.30,76.73 L482.06,78.62 L482.70,75.48 L483.43,76.92 L484.29,76.06 L485.30,77.85 L486.02,80.66 L486.82,83.21 L487.67,81.56 L488.51,86.66 L489.30,87.50 L490.04,90.22 L490.76,92.85 L491.47,94.18 L492.15,96.26 L492.80,100.57 L493.60,102.84 L494.36,106.70 L495.07,109.19 L495.70,111.78 L496.51,114.86 L497.40,116.31 L498.04,116.23 L498.84,115.90 L499.67,116.19 L500.40,116.35 L500.90,115.88" stroke="#17a071" stroke-width="0.9" fill="none" stroke-linejoin="round" opacity="0.95"/>
<path d="M424.00,115.73 L424.41,116.14 L424.89,116.38 L425.45,116.33 L426.07,116.40 L426.75,116.19 L427.48,116.38 L428.25,116.25 L429.06,116.22 L429.90,115.97 L430.75,115.71 L431.62,115.80 L432.50,116.05 L433.38,116.04 L434.24,115.93 L435.10,116.03 L435.92,116.05 L436.72,116.25 L437.48,116.06 L438.20,115.51 L438.86,116.15 L439.46,115.84 L440.00,115.72 L441.23,115.81 L442.21,116.38 L443.00,116.27 L443.66,116.23 L444.23,116.02 L444.77,115.91 L445.34,115.33 L446.00,115.37 L446.80,115.28 L447.56,116.11 L448.31,116.07 L449.06,115.32 L449.83,115.05 L450.64,115.36 L451.50,115.05 L452.14,115.52 L452.81,114.89 L453.49,114.07 L454.20,113.94 L454.91,113.63 L455.64,113.20 L456.36,113.80 L457.08,113.68 L457.80,113.31 L458.50,112.49 L459.28,111.88 L460.08,111.09 L460.89,110.97 L461.70,110.63 L462.50,109.97 L463.27,109.98 L464.02,109.32 L464.73,109.69 L465.40,107.84 L466.31,108.03 L467.15,105.85 L467.92,105.49 L468.64,105.27 L469.33,104.68 L470.00,103.32 L470.93,100.59 L471.77,98.47 L472.57,98.08 L473.40,95.98 L474.09,92.38 L474.79,89.83 L475.50,88.17 L476.20,86.49 L476.90,82.58 L477.63,83.11 L478.40,79.51 L479.15,76.54 L479.83,71.88 L480.40,71.94 L481.16,67.65 L481.80,69.12 L482.53,71.23 L483.39,72.76 L484.40,71.29 L485.12,74.76 L485.92,79.25 L486.77,83.24 L487.61,83.79 L488.40,85.81 L489.14,89.57 L489.86,92.96 L490.57,94.42 L491.25,96.51 L491.90,101.12 L492.70,104.70 L493.46,107.10 L494.17,109.77 L494.80,111.68 L495.61,115.01 L496.50,115.72 L497.14,115.78 L497.94,116.10 L498.77,116.35 L499.50,115.74 L500.00,116.26" stroke="#e2332f" stroke-width="0.9" fill="none" stroke-linejoin="round" opacity="0.95"/>
<path d="M423.60,48.50 H501.50 V116.50" stroke="#8c8c8c" stroke-width="0.9" fill="none"/>
<line x1="423.60" y1="48.10" x2="423.60" y2="117.00" stroke="#3a3a3a" stroke-width="1"/>
<line x1="423.10" y1="116.50" x2="501.90" y2="116.50" stroke="#3a3a3a" stroke-width="1"/>
<line x1="421.20" y1="116.50" x2="423.60" y2="116.50" stroke="#3a3a3a" stroke-width="1"/>
<text x="413.30" y="119.60" font-size="9.0" textLength="5.00" lengthAdjust="spacingAndGlyphs" fill="#222">0</text>
<line x1="421.20" y1="97.10" x2="423.60" y2="97.10" stroke="#3a3a3a" stroke-width="1"/>
<text x="402.30" y="100.20" font-size="9.0" textLength="16.00" lengthAdjust="spacingAndGlyphs" fill="#222">200</text>
<line x1="421.20" y1="77.70" x2="423.60" y2="77.70" stroke="#3a3a3a" stroke-width="1"/>
<text x="402.30" y="80.80" font-size="9.0" textLength="16.00" lengthAdjust="spacingAndGlyphs" fill="#222">400</text>
<line x1="421.20" y1="58.30" x2="423.60" y2="58.30" stroke="#3a3a3a" stroke-width="1"/>
<text x="402.30" y="61.40" font-size="9.0" textLength="16.00" lengthAdjust="spacingAndGlyphs" fill="#222">600</text>
<line x1="422.40" y1="116.50" x2="423.60" y2="116.50" stroke="#3a3a3a" stroke-width="0.6"/>
<line x1="422.40" y1="112.62" x2="423.60" y2="112.62" stroke="#3a3a3a" stroke-width="0.6"/>
<line x1="422.40" y1="108.74" x2="423.60" y2="108.74" stroke="#3a3a3a" stroke-width="0.6"/>
<line x1="422.40" y1="104.86" x2="423.60" y2="104.86" stroke="#3a3a3a" stroke-width="0.6"/>
<line x1="422.40" y1="100.98" x2="423.60" y2="100.98" stroke="#3a3a3a" stroke-width="0.6"/>
<line x1="422.40" y1="97.10" x2="423.60" y2="97.10" stroke="#3a3a3a" stroke-width="0.6"/>
<line x1="422.40" y1="93.22" x2="423.60" y2="93.22" stroke="#3a3a3a" stroke-width="0.6"/>
<line x1="422.40" y1="89.34" x2="423.60" y2="89.34" stroke="#3a3a3a" stroke-width="0.6"/>
<line x1="422.40" y1="85.46" x2="423.60" y2="85.46" stroke="#3a3a3a" stroke-width="0.6"/>
<line x1="422.40" y1="81.58" x2="423.60" y2="81.58" stroke="#3a3a3a" stroke-width="0.6"/>
<line x1="422.40" y1="77.70" x2="423.60" y2="77.70" stroke="#3a3a3a" stroke-width="0.6"/>
<line x1="422.40" y1="73.82" x2="423.60" y2="73.82" stroke="#3a3a3a" stroke-width="0.6"/>
<line x1="422.40" y1="69.94" x2="423.60" y2="69.94" stroke="#3a3a3a" stroke-width="0.6"/>
<line x1="422.40" y1="66.06" x2="423.60" y2="66.06" stroke="#3a3a3a" stroke-width="0.6"/>
<line x1="422.40" y1="62.18" x2="423.60" y2="62.18" stroke="#3a3a3a" stroke-width="0.6"/>
<line x1="422.40" y1="58.30" x2="423.60" y2="58.30" stroke="#3a3a3a" stroke-width="0.6"/>
<line x1="422.40" y1="54.42" x2="423.60" y2="54.42" stroke="#3a3a3a" stroke-width="0.6"/>
<line x1="422.40" y1="50.54" x2="423.60" y2="50.54" stroke="#3a3a3a" stroke-width="0.6"/>
<line x1="423.40" y1="116.50" x2="423.40" y2="118.70" stroke="#3a3a3a" stroke-width="0.9"/>
<line x1="427.76" y1="116.50" x2="427.76" y2="117.50" stroke="#3a3a3a" stroke-width="0.5"/>
<line x1="430.32" y1="116.50" x2="430.32" y2="117.50" stroke="#3a3a3a" stroke-width="0.5"/>
<line x1="432.13" y1="116.50" x2="432.13" y2="117.50" stroke="#3a3a3a" stroke-width="0.5"/>
<line x1="433.54" y1="116.50" x2="433.54" y2="117.50" stroke="#3a3a3a" stroke-width="0.5"/>
<line x1="434.68" y1="116.50" x2="434.68" y2="117.50" stroke="#3a3a3a" stroke-width="0.5"/>
<line x1="435.65" y1="116.50" x2="435.65" y2="117.50" stroke="#3a3a3a" stroke-width="0.5"/>
<line x1="436.49" y1="116.50" x2="436.49" y2="117.50" stroke="#3a3a3a" stroke-width="0.5"/>
<line x1="437.24" y1="116.50" x2="437.24" y2="117.50" stroke="#3a3a3a" stroke-width="0.5"/>
<text transform="translate(429.60,129.90) rotate(-45)" x="0" y="0" font-size="9.0" text-anchor="end" fill="#222">10<tspan font-size="7.2" dy="-3.6">0</tspan></text>
<line x1="437.90" y1="116.50" x2="437.90" y2="118.70" stroke="#3a3a3a" stroke-width="0.9"/>
<line x1="442.26" y1="116.50" x2="442.26" y2="117.50" stroke="#3a3a3a" stroke-width="0.5"/>
<line x1="444.82" y1="116.50" x2="444.82" y2="117.50" stroke="#3a3a3a" stroke-width="0.5"/>
<line x1="446.63" y1="116.50" x2="446.63" y2="117.50" stroke="#3a3a3a" stroke-width="0.5"/>
<line x1="448.04" y1="116.50" x2="448.04" y2="117.50" stroke="#3a3a3a" stroke-width="0.5"/>
<line x1="449.18" y1="116.50" x2="449.18" y2="117.50" stroke="#3a3a3a" stroke-width="0.5"/>
<line x1="450.15" y1="116.50" x2="450.15" y2="117.50" stroke="#3a3a3a" stroke-width="0.5"/>
<line x1="450.99" y1="116.50" x2="450.99" y2="117.50" stroke="#3a3a3a" stroke-width="0.5"/>
<line x1="451.74" y1="116.50" x2="451.74" y2="117.50" stroke="#3a3a3a" stroke-width="0.5"/>
<text transform="translate(444.10,129.90) rotate(-45)" x="0" y="0" font-size="9.0" text-anchor="end" fill="#222">10<tspan font-size="7.2" dy="-3.6">1</tspan></text>
<line x1="452.40" y1="116.50" x2="452.40" y2="118.70" stroke="#3a3a3a" stroke-width="0.9"/>
<line x1="456.76" y1="116.50" x2="456.76" y2="117.50" stroke="#3a3a3a" stroke-width="0.5"/>
<line x1="459.32" y1="116.50" x2="459.32" y2="117.50" stroke="#3a3a3a" stroke-width="0.5"/>
<line x1="461.13" y1="116.50" x2="461.13" y2="117.50" stroke="#3a3a3a" stroke-width="0.5"/>
<line x1="462.54" y1="116.50" x2="462.54" y2="117.50" stroke="#3a3a3a" stroke-width="0.5"/>
<line x1="463.68" y1="116.50" x2="463.68" y2="117.50" stroke="#3a3a3a" stroke-width="0.5"/>
<line x1="464.65" y1="116.50" x2="464.65" y2="117.50" stroke="#3a3a3a" stroke-width="0.5"/>
<line x1="465.49" y1="116.50" x2="465.49" y2="117.50" stroke="#3a3a3a" stroke-width="0.5"/>
<line x1="466.24" y1="116.50" x2="466.24" y2="117.50" stroke="#3a3a3a" stroke-width="0.5"/>
<text transform="translate(458.60,129.90) rotate(-45)" x="0" y="0" font-size="9.0" text-anchor="end" fill="#222">10<tspan font-size="7.2" dy="-3.6">2</tspan></text>
<line x1="466.90" y1="116.50" x2="466.90" y2="118.70" stroke="#3a3a3a" stroke-width="0.9"/>
<line x1="471.26" y1="116.50" x2="471.26" y2="117.50" stroke="#3a3a3a" stroke-width="0.5"/>
<line x1="473.82" y1="116.50" x2="473.82" y2="117.50" stroke="#3a3a3a" stroke-width="0.5"/>
<line x1="475.63" y1="116.50" x2="475.63" y2="117.50" stroke="#3a3a3a" stroke-width="0.5"/>
<line x1="477.04" y1="116.50" x2="477.04" y2="117.50" stroke="#3a3a3a" stroke-width="0.5"/>
<line x1="478.18" y1="116.50" x2="478.18" y2="117.50" stroke="#3a3a3a" stroke-width="0.5"/>
<line x1="479.15" y1="116.50" x2="479.15" y2="117.50" stroke="#3a3a3a" stroke-width="0.5"/>
<line x1="479.99" y1="116.50" x2="479.99" y2="117.50" stroke="#3a3a3a" stroke-width="0.5"/>
<line x1="480.74" y1="116.50" x2="480.74" y2="117.50" stroke="#3a3a3a" stroke-width="0.5"/>
<text transform="translate(473.10,129.90) rotate(-45)" x="0" y="0" font-size="9.0" text-anchor="end" fill="#222">10<tspan font-size="7.2" dy="-3.6">3</tspan></text>
<line x1="481.40" y1="116.50" x2="481.40" y2="118.70" stroke="#3a3a3a" stroke-width="0.9"/>
<line x1="485.76" y1="116.50" x2="485.76" y2="117.50" stroke="#3a3a3a" stroke-width="0.5"/>
<line x1="488.32" y1="116.50" x2="488.32" y2="117.50" stroke="#3a3a3a" stroke-width="0.5"/>
<line x1="490.13" y1="116.50" x2="490.13" y2="117.50" stroke="#3a3a3a" stroke-width="0.5"/>
<line x1="491.54" y1="116.50" x2="491.54" y2="117.50" stroke="#3a3a3a" stroke-width="0.5"/>
<line x1="492.68" y1="116.50" x2="492.68" y2="117.50" stroke="#3a3a3a" stroke-width="0.5"/>
<line x1="493.65" y1="116.50" x2="493.65" y2="117.50" stroke="#3a3a3a" stroke-width="0.5"/>
<line x1="494.49" y1="116.50" x2="494.49" y2="117.50" stroke="#3a3a3a" stroke-width="0.5"/>
<line x1="495.24" y1="116.50" x2="495.24" y2="117.50" stroke="#3a3a3a" stroke-width="0.5"/>
<text transform="translate(487.60,129.90) rotate(-45)" x="0" y="0" font-size="9.0" text-anchor="end" fill="#222">10<tspan font-size="7.2" dy="-3.6">4</tspan></text>
<line x1="495.90" y1="116.50" x2="495.90" y2="118.70" stroke="#3a3a3a" stroke-width="0.9"/>
<text transform="translate(502.10,129.90) rotate(-45)" x="0" y="0" font-size="9.0" text-anchor="end" fill="#222">10<tspan font-size="7.2" dy="-3.6">5</tspan></text>
<text transform="translate(395.20,92.10) rotate(-90)" x="0" y="0" font-size="10.4" textLength="18.20" lengthAdjust="spacingAndGlyphs" stroke="#222" stroke-width="0.33" fill="#222">Count</text>
<text x="478.50" y="59.50" font-size="8.6" textLength="20.00" lengthAdjust="spacingAndGlyphs" fill="#222">24 hr</text>
<text x="410.20" y="153.40" font-size="10.9" textLength="102.40" lengthAdjust="spacingAndGlyphs" stroke="#222" stroke-width="0.33" fill="#222">R670 30-A :: fibrinogen Ax647</text>
<path d="M290.00,296.26 L290.64,296.86 L291.50,296.32 L292.33,293.90 L293.20,293.54 L294.11,293.61 L295.00,295.63 L295.74,295.14 L296.50,293.94 L297.28,294.29 L298.40,294.26 L298.99,293.32 L299.69,294.03 L300.45,292.75 L301.24,292.17 L302.00,289.68 L302.70,290.55 L303.46,289.81 L304.18,288.87 L304.87,287.09 L305.54,284.73 L306.20,283.57 L306.99,282.31 L307.76,279.67 L308.49,277.98 L309.20,278.26 L310.11,276.85 L310.98,272.12 L311.80,270.54 L312.55,270.36 L313.25,263.82 L314.00,262.72 L314.87,262.33 L315.79,263.25 L316.60,264.48 L317.45,264.10 L318.30,262.11 L319.13,263.21 L320.07,262.68 L320.90,269.05 L321.80,268.52 L322.60,275.26 L323.50,279.72 L324.40,283.74 L325.26,288.62 L326.10,293.43 L326.29,296.77 L327.80,297.28 L328.26,297.51 L328.83,297.01 L329.48,297.80 L330.21,297.71 L330.99,297.15 L331.82,297.80 L332.68,297.67 L333.56,297.21 L334.45,297.23 L335.32,297.80 L336.17,297.80 L336.99,297.80 L337.75,296.89 L338.44,297.58 L339.06,297.01 L339.58,296.83 L340.00,297.43" stroke="#f0b25a" stroke-width="0.9" fill="none" stroke-linejoin="round" opacity="0.95"/>
<path d="M290.00,297.00 L290.64,295.89 L291.50,295.74 L292.33,294.68 L293.20,292.84 L294.11,294.63 L295.00,295.93 L295.74,295.34 L296.50,293.05 L297.28,293.54 L298.40,294.34 L298.99,293.41 L299.69,294.09 L300.45,292.90 L301.24,291.55 L302.00,289.75 L302.70,288.92 L303.46,289.21 L304.18,288.79 L304.87,287.74 L305.54,286.85 L306.20,284.96 L306.99,285.27 L307.76,282.14 L308.49,280.61 L309.20,278.77 L310.11,277.03 L310.98,275.75 L311.80,274.75 L312.55,272.45 L313.25,269.79 L314.00,266.07 L314.87,267.68 L315.79,266.43 L316.60,263.40 L317.45,264.24 L318.30,264.63 L319.13,265.72 L320.07,265.18 L320.90,268.03 L321.80,268.59 L322.60,272.85 L323.50,277.85 L324.40,285.17 L325.26,290.14 L326.10,293.94 L326.29,296.10 L327.80,297.12 L328.26,297.49 L328.83,297.78 L329.48,297.67 L330.21,297.52 L330.99,297.49 L331.82,297.42 L332.68,297.31 L333.56,297.46 L334.45,297.80 L335.32,297.22 L336.17,297.70 L336.99,297.40 L337.75,297.54 L338.44,297.15 L339.06,297.64 L339.58,297.57 L340.00,297.57" stroke="#e2332f" stroke-width="0.9" fill="none" stroke-linejoin="round" opacity="0.95"/>
<path d="M290.00,297.02 L290.64,296.13 L291.50,295.82 L292.33,294.51 L293.20,293.29 L294.11,293.85 L295.00,295.62 L295.74,294.90 L296.50,293.11 L297.28,293.99 L298.40,294.03 L298.99,294.51 L299.69,293.43 L300.45,292.17 L301.24,291.19 L302.00,290.13 L302.70,290.40 L303.46,289.09 L304.18,288.39 L304.87,287.30 L305.54,285.00 L306.20,284.47 L306.99,282.21 L307.76,281.47 L308.49,278.67 L309.20,277.78 L310.13,276.11 L311.01,272.81 L311.80,269.99 L312.79,267.68 L313.60,261.86 L314.80,257.12 L316.20,264.67 L316.83,264.26 L317.54,264.26 L318.30,263.91 L319.16,264.71 L320.08,265.22 L320.90,266.90 L321.80,271.14 L322.60,275.31 L323.50,279.61 L324.40,284.31 L325.26,289.77 L326.10,293.52 L326.29,296.38 L327.80,297.26 L328.26,297.54 L328.83,297.80 L329.48,297.80 L330.21,297.80 L330.99,297.75 L331.82,297.70 L332.68,297.80 L333.56,297.80 L334.45,297.59 L335.32,297.75 L336.17,297.79 L336.99,297.73 L337.75,297.25 L338.44,297.65 L339.06,297.44 L339.58,297.56 L340.00,297.52" stroke="#707478" stroke-width="0.8" fill="none" stroke-linejoin="round" opacity="0.95"/>
<path d="M290.00,296.26 L290.64,295.85 L291.50,296.08 L292.33,294.78 L293.20,292.82 L294.11,294.80 L295.00,296.29 L295.74,294.04 L296.50,293.57 L297.28,293.68 L298.40,294.67 L298.99,293.52 L299.69,293.46 L300.45,293.10 L301.24,292.44 L302.00,290.57 L302.70,289.51 L303.46,287.98 L304.18,288.68 L304.87,286.56 L305.54,286.05 L306.20,284.60 L306.99,283.87 L307.76,281.78 L308.49,279.33 L309.20,276.39 L310.11,276.89 L310.98,273.71 L311.80,270.46 L312.55,266.98 L313.25,267.07 L314.00,265.41 L314.87,261.57 L315.79,262.08 L316.60,264.55 L317.45,265.30 L318.30,260.83 L319.13,264.18 L320.07,263.71 L320.90,266.86 L321.80,269.17 L322.60,275.27 L323.50,278.43 L324.40,285.27 L325.26,289.52 L326.10,292.77 L326.29,295.67 L327.80,297.63 L328.26,297.71 L328.83,297.62 L329.48,297.58 L330.21,297.74 L330.99,297.80 L331.82,297.80 L332.68,297.43 L333.56,297.24 L334.45,297.80 L335.32,297.49 L336.17,297.26 L336.99,297.80 L337.75,297.10 L338.44,297.75 L339.06,297.26 L339.58,297.28 L340.00,297.20" stroke="#504440" stroke-width="0.9" fill="none" stroke-linejoin="round" opacity="0.95"/>
<path d="M290.00,229.50 H367.10 V297.80" stroke="#8c8c8c" stroke-width="0.9" fill="none"/>
<line x1="290.00" y1="229.10" x2="290.00" y2="298.30" stroke="#3a3a3a" stroke-width="1"/>
<line x1="289.50" y1="297.80" x2="367.50" y2="297.80" stroke="#3a3a3a" stroke-width="1"/>
<line x1="287.60" y1="297.80" x2="290.00" y2="297.80" stroke="#3a3a3a" stroke-width="1"/>
<text x="279.20" y="300.90" font-size="9.0" textLength="5.00" lengthAdjust="spacingAndGlyphs" fill="#222">0</text>
<line x1="287.60" y1="284.20" x2="290.00" y2="284.20" stroke="#3a3a3a" stroke-width="1"/>
<text x="268.20" y="287.30" font-size="9.0" textLength="16.00" lengthAdjust="spacingAndGlyphs" fill="#222">100</text>
<line x1="287.60" y1="270.60" x2="290.00" y2="270.60" stroke="#3a3a3a" stroke-width="1"/>
<text x="268.20" y="273.70" font-size="9.0" textLength="16.00" lengthAdjust="spacingAndGlyphs" fill="#222">200</text>
<line x1="287.60" y1="257.00" x2="290.00" y2="257.00" stroke="#3a3a3a" stroke-width="1"/>
<text x="268.20" y="260.10" font-size="9.0" textLength="16.00" lengthAdjust="spacingAndGlyphs" fill="#222">300</text>
<line x1="287.60" y1="243.40" x2="290.00" y2="243.40" stroke="#3a3a3a" stroke-width="1"/>
<text x="268.20" y="246.50" font-size="9.0" textLength="16.00" lengthAdjust="spacingAndGlyphs" fill="#222">400</text>
<line x1="287.60" y1="229.80" x2="290.00" y2="229.80" stroke="#3a3a3a" stroke-width="1"/>
<text x="268.20" y="232.90" font-size="9.0" textLength="16.00" lengthAdjust="spacingAndGlyphs" fill="#222">500</text>
<line x1="288.80" y1="297.80" x2="290.00" y2="297.80" stroke="#3a3a3a" stroke-width="0.6"/>
<line x1="288.80" y1="295.08" x2="290.00" y2="295.08" stroke="#3a3a3a" stroke-width="0.6"/>
<line x1="288.80" y1="292.36" x2="290.00" y2="292.36" stroke="#3a3a3a" stroke-width="0.6"/>
<line x1="288.80" y1="289.64" x2="290.00" y2="289.64" stroke="#3a3a3a" stroke-width="0.6"/>
<line x1="288.80" y1="286.92" x2="290.00" y2="286.92" stroke="#3a3a3a" stroke-width="0.6"/>
<line x1="288.80" y1="284.20" x2="290.00" y2="284.20" stroke="#3a3a3a" stroke-width="0.6"/>
<line x1="288.80" y1="281.48" x2="290.00" y2="281.48" stroke="#3a3a3a" stroke-width="0.6"/>
<line x1="288.80" y1="278.76" x2="290.00" y2="278.76" stroke="#3a3a3a" stroke-width="0.6"/>
<line x1="288.80" y1="276.04" x2="290.00" y2="276.04" stroke="#3a3a3a" stroke-width="0.6"/>
<line x1="288.80" y1="273.32" x2="290.00" y2="273.32" stroke="#3a3a3a" stroke-width="0.6"/>
<line x1="288.80" y1="270.60" x2="290.00" y2="270.60" stroke="#3a3a3a" stroke-width="0.6"/>
<line x1="288.80" y1="267.88" x2="290.00" y2="267.88" stroke="#3a3a3a" stroke-width="0.6"/>
<line x1="288.80" y1="265.16" x2="290.00" y2="265.16" stroke="#3a3a3a" stroke-width="0.6"/>
<line x1="288.80" y1="262.44" x2="290.00" y2="262.44" stroke="#3a3a3a" stroke-width="0.6"/>
<line x1="288.80" y1="259.72" x2="290.00" y2="259.72" stroke="#3a3a3a" stroke-width="0.6"/>
<line x1="288.80" y1="257.00" x2="290.00" y2="257.00" stroke="#3a3a3a" stroke-width="0.6"/>
<line x1="288.80" y1="254.28" x2="290.00" y2="254.28" stroke="#3a3a3a" stroke-width="0.6"/>
<line x1="288.80" y1="251.56" x2="290.00" y2="251.56" stroke="#3a3a3a" stroke-width="0.6"/>
<line x1="288.80" y1="248.84" x2="290.00" y2="248.84" stroke="#3a3a3a" stroke-width="0.6"/>
<line x1="288.80" y1="246.12" x2="290.00" y2="246.12" stroke="#3a3a3a" stroke-width="0.6"/>
<line x1="288.80" y1="243.40" x2="290.00" y2="243.40" stroke="#3a3a3a" stroke-width="0.6"/>
<line x1="288.80" y1="240.68" x2="290.00" y2="240.68" stroke="#3a3a3a" stroke-width="0.6"/>
<line x1="288.80" y1="237.96" x2="290.00" y2="237.96" stroke="#3a3a3a" stroke-width="0.6"/>
<line x1="288.80" y1="235.24" x2="290.00" y2="235.24" stroke="#3a3a3a" stroke-width="0.6"/>
<line x1="288.80" y1="232.52" x2="290.00" y2="232.52" stroke="#3a3a3a" stroke-width="0.6"/>
<line x1="288.80" y1="229.80" x2="290.00" y2="229.80" stroke="#3a3a3a" stroke-width="0.6"/>
<line x1="289.80" y1="297.80" x2="289.80" y2="300.00" stroke="#3a3a3a" stroke-width="0.9"/>
<line x1="294.13" y1="297.80" x2="294.13" y2="298.80" stroke="#3a3a3a" stroke-width="0.5"/>
<line x1="296.67" y1="297.80" x2="296.67" y2="298.80" stroke="#3a3a3a" stroke-width="0.5"/>
<line x1="298.47" y1="297.80" x2="298.47" y2="298.80" stroke="#3a3a3a" stroke-width="0.5"/>
<line x1="299.87" y1="297.80" x2="299.87" y2="298.80" stroke="#3a3a3a" stroke-width="0.5"/>
<line x1="301.01" y1="297.80" x2="301.01" y2="298.80" stroke="#3a3a3a" stroke-width="0.5"/>
<line x1="301.97" y1="297.80" x2="301.97" y2="298.80" stroke="#3a3a3a" stroke-width="0.5"/>
<line x1="302.80" y1="297.80" x2="302.80" y2="298.80" stroke="#3a3a3a" stroke-width="0.5"/>
<line x1="303.54" y1="297.80" x2="303.54" y2="298.80" stroke="#3a3a3a" stroke-width="0.5"/>
<text transform="translate(296.00,311.20) rotate(-45)" x="0" y="0" font-size="9.0" text-anchor="end" fill="#222">10<tspan font-size="7.2" dy="-3.6">0</tspan></text>
<line x1="304.20" y1="297.80" x2="304.20" y2="300.00" stroke="#3a3a3a" stroke-width="0.9"/>
<line x1="308.53" y1="297.80" x2="308.53" y2="298.80" stroke="#3a3a3a" stroke-width="0.5"/>
<line x1="311.07" y1="297.80" x2="311.07" y2="298.80" stroke="#3a3a3a" stroke-width="0.5"/>
<line x1="312.87" y1="297.80" x2="312.87" y2="298.80" stroke="#3a3a3a" stroke-width="0.5"/>
<line x1="314.27" y1="297.80" x2="314.27" y2="298.80" stroke="#3a3a3a" stroke-width="0.5"/>
<line x1="315.41" y1="297.80" x2="315.41" y2="298.80" stroke="#3a3a3a" stroke-width="0.5"/>
<line x1="316.37" y1="297.80" x2="316.37" y2="298.80" stroke="#3a3a3a" stroke-width="0.5"/>
<line x1="317.20" y1="297.80" x2="317.20" y2="298.80" stroke="#3a3a3a" stroke-width="0.5"/>
<line x1="317.94" y1="297.80" x2="317.94" y2="298.80" stroke="#3a3a3a" stroke-width="0.5"/>
<text transform="translate(310.40,311.20) rotate(-45)" x="0" y="0" font-size="9.0" text-anchor="end" fill="#222">10<tspan font-size="7.2" dy="-3.6">1</tspan></text>
<line x1="318.60" y1="297.80" x2="318.60" y2="300.00" stroke="#3a3a3a" stroke-width="0.9"/>
<line x1="322.93" y1="297.80" x2="322.93" y2="298.80" stroke="#3a3a3a" stroke-width="0.5"/>
<line x1="325.47" y1="297.80" x2="325.47" y2="298.80" stroke="#3a3a3a" stroke-width="0.5"/>
<line x1="327.27" y1="297.80" x2="327.27" y2="298.80" stroke="#3a3a3a" stroke-width="0.5"/>
<line x1="328.67" y1="297.80" x2="328.67" y2="298.80" stroke="#3a3a3a" stroke-width="0.5"/>
<line x1="329.81" y1="297.80" x2="329.81" y2="298.80" stroke="#3a3a3a" stroke-width="0.5"/>
<line x1="330.77" y1="297.80" x2="330.77" y2="298.80" stroke="#3a3a3a" stroke-width="0.5"/>
<line x1="331.60" y1="297.80" x2="331.60" y2="298.80" stroke="#3a3a3a" stroke-width="0.5"/>
<line x1="332.34" y1="297.80" x2="332.34" y2="298.80" stroke="#3a3a3a" stroke-width="0.5"/>
<text transform="translate(324.80,311.20) rotate(-45)" x="0" y="0" font-size="9.0" text-anchor="end" fill="#222">10<tspan font-size="7.2" dy="-3.6">2</tspan></text>
<line x1="333.00" y1="297.80" x2="333.00" y2="300.00" stroke="#3a3a3a" stroke-width="0.9"/>
<line x1="337.33" y1="297.80" x2="337.33" y2="298.80" stroke="#3a3a3a" stroke-width="0.5"/>
<line x1="339.87" y1="297.80" x2="339.87" y2="298.80" stroke="#3a3a3a" stroke-width="0.5"/>
<line x1="341.67" y1="297.80" x2="341.67" y2="298.80" stroke="#3a3a3a" stroke-width="0.5"/>
<line x1="343.07" y1="297.80" x2="343.07" y2="298.80" stroke="#3a3a3a" stroke-width="0.5"/>
<line x1="344.21" y1="297.80" x2="344.21" y2="298.80" stroke="#3a3a3a" stroke-width="0.5"/>
<line x1="345.17" y1="297.80" x2="345.17" y2="298.80" stroke="#3a3a3a" stroke-width="0.5"/>
<line x1="346.00" y1="297.80" x2="346.00" y2="298.80" stroke="#3a3a3a" stroke-width="0.5"/>
<line x1="346.74" y1="297.80" x2="346.74" y2="298.80" stroke="#3a3a3a" stroke-width="0.5"/>
<text transform="translate(339.20,311.20) rotate(-45)" x="0" y="0" font-size="9.0" text-anchor="end" fill="#222">10<tspan font-size="7.2" dy="-3.6">3</tspan></text>
<line x1="347.40" y1="297.80" x2="347.40" y2="300.00" stroke="#3a3a3a" stroke-width="0.9"/>
<line x1="351.73" y1="297.80" x2="351.73" y2="298.80" stroke="#3a3a3a" stroke-width="0.5"/>
<line x1="354.27" y1="297.80" x2="354.27" y2="298.80" stroke="#3a3a3a" stroke-width="0.5"/>
<line x1="356.07" y1="297.80" x2="356.07" y2="298.80" stroke="#3a3a3a" stroke-width="0.5"/>
<line x1="357.47" y1="297.80" x2="357.47" y2="298.80" stroke="#3a3a3a" stroke-width="0.5"/>
<line x1="358.61" y1="297.80" x2="358.61" y2="298.80" stroke="#3a3a3a" stroke-width="0.5"/>
<line x1="359.57" y1="297.80" x2="359.57" y2="298.80" stroke="#3a3a3a" stroke-width="0.5"/>
<line x1="360.40" y1="297.80" x2="360.40" y2="298.80" stroke="#3a3a3a" stroke-width="0.5"/>
<line x1="361.14" y1="297.80" x2="361.14" y2="298.80" stroke="#3a3a3a" stroke-width="0.5"/>
<text transform="translate(353.60,311.20) rotate(-45)" x="0" y="0" font-size="9.0" text-anchor="end" fill="#222">10<tspan font-size="7.2" dy="-3.6">4</tspan></text>
<line x1="361.80" y1="297.80" x2="361.80" y2="300.00" stroke="#3a3a3a" stroke-width="0.9"/>
<text transform="translate(368.00,311.20) rotate(-45)" x="0" y="0" font-size="9.0" text-anchor="end" fill="#222">10<tspan font-size="7.2" dy="-3.6">5</tspan></text>
<text transform="translate(261.80,273.00) rotate(-90)" x="0" y="0" font-size="10.4" textLength="18.90" lengthAdjust="spacingAndGlyphs" stroke="#222" stroke-width="0.33" fill="#222">Count</text>
<text x="343.80" y="240.80" font-size="8.6" textLength="21.40" lengthAdjust="spacingAndGlyphs" fill="#222">0 min</text>
<text x="278.00" y="337.40" font-size="10.9" textLength="100.20" lengthAdjust="spacingAndGlyphs" stroke="#222" stroke-width="0.33" fill="#222">R670 30-A :: fibrinogen Ax647</text>
<path d="M424.00,297.51 L424.43,298.03 L424.97,297.73 L425.60,297.96 L426.32,297.53 L427.10,297.85 L427.91,297.81 L428.75,298.20 L429.60,297.37 L430.44,297.51 L431.24,297.88 L432.00,296.82 L432.74,296.66 L433.50,297.13 L434.27,297.52 L435.05,296.82 L435.83,297.37 L436.59,297.18 L437.34,296.40 L438.06,296.90 L438.75,295.98 L439.40,295.61 L440.00,296.40 L440.96,294.63 L441.79,295.45 L442.51,293.35 L443.19,292.61 L443.87,292.62 L444.60,293.16 L445.38,290.91 L446.17,290.22 L446.97,287.04 L447.75,288.80 L448.50,284.83 L449.20,283.13 L449.97,283.07 L450.68,281.59 L451.36,283.57 L452.02,278.73 L452.70,280.33 L453.53,276.80 L454.32,276.01 L455.16,279.42 L456.10,274.99 L456.80,273.62 L457.53,278.42 L458.31,276.26 L459.11,273.33 L459.94,276.72 L460.80,271.63 L461.47,275.38 L462.18,271.60 L462.91,275.77 L463.66,273.17 L464.40,270.16 L465.13,274.71 L465.83,274.15 L466.50,272.30 L467.34,273.29 L468.16,274.93 L468.94,273.63 L469.69,273.55 L470.41,267.96 L471.10,269.82 L471.87,268.61 L472.58,274.15 L473.25,270.59 L473.92,275.84 L474.60,273.99 L475.28,274.35 L475.95,277.19 L476.62,275.47 L477.33,278.66 L478.10,279.96 L478.80,279.73 L479.55,284.83 L480.33,282.22 L481.13,285.27 L481.92,287.57 L482.70,287.36 L483.47,290.41 L484.23,289.27 L485.00,291.70 L485.77,293.35 L486.53,293.28 L487.30,294.89 L488.08,296.15 L488.89,295.50 L489.69,297.36 L490.48,296.25 L491.22,297.63 L491.90,297.23 L492.71,296.99 L493.36,297.21 L494.06,297.22 L495.00,297.78 L495.65,298.20 L496.44,298.20 L497.30,298.05 L498.19,297.41 L499.06,297.65 L499.85,297.52 L500.52,296.99 L501.00,298.02" stroke="#f3d995" stroke-width="1.2" fill="none" stroke-linejoin="round" opacity="0.95"/>
<path d="M424.00,297.70 L424.43,297.71 L424.97,298.20 L425.60,298.20 L426.32,297.98 L427.10,298.20 L427.91,297.89 L428.75,298.00 L429.60,297.47 L430.44,297.38 L431.24,297.79 L432.00,297.13 L432.74,297.21 L433.50,297.55 L434.27,296.31 L435.05,297.13 L435.83,297.11 L436.59,297.03 L437.34,296.05 L438.06,295.50 L438.75,295.42 L439.40,295.79 L440.00,295.77 L440.96,295.75 L441.79,294.18 L442.51,293.78 L443.19,293.58 L443.87,292.33 L444.60,291.98 L445.38,289.99 L446.17,289.39 L446.97,289.51 L447.75,286.65 L448.50,288.00 L449.20,285.61 L449.97,284.95 L450.68,284.52 L451.36,284.23 L452.02,280.80 L452.70,282.77 L453.53,279.78 L454.32,277.32 L455.16,279.74 L456.10,278.78 L456.80,276.57 L457.53,276.57 L458.31,275.56 L459.11,274.40 L459.94,276.91 L460.80,275.96 L461.47,275.75 L462.18,276.68 L462.91,272.52 L463.66,272.78 L464.40,272.88 L465.13,276.06 L465.83,271.84 L466.50,272.12 L467.34,273.20 L468.16,271.52 L468.94,272.65 L469.69,273.55 L470.41,274.04 L471.10,273.44 L471.87,274.69 L472.58,273.69 L473.25,272.32 L473.92,273.35 L474.60,273.50 L475.28,275.00 L475.95,277.91 L476.62,277.72 L477.33,279.36 L478.10,279.27 L478.80,281.49 L479.55,283.72 L480.33,283.87 L481.13,284.36 L481.92,287.95 L482.70,287.43 L483.47,290.81 L484.23,291.35 L485.00,292.49 L485.77,292.50 L486.53,293.13 L487.30,294.34 L488.08,295.72 L488.89,295.43 L489.69,296.72 L490.48,297.22 L491.22,296.63 L491.90,297.31 L492.71,297.57 L493.36,297.35 L494.06,297.14 L495.00,297.73 L495.65,297.40 L496.44,297.56 L497.30,297.40 L498.19,297.81 L499.06,297.51 L499.85,297.65 L500.52,297.90 L501.00,297.99" stroke="#f0b25a" stroke-width="0.9" fill="none" stroke-linejoin="round" opacity="0.95"/>
<path d="M424.00,297.31 L424.43,298.20 L424.97,297.36 L425.60,298.20 L426.32,298.20 L427.10,298.20 L427.91,297.16 L428.75,297.84 L429.60,298.04 L430.44,298.11 L431.24,298.00 L432.00,297.04 L432.74,297.00 L433.50,296.78 L434.27,296.58 L435.05,297.38 L435.83,296.48 L436.59,296.64 L437.34,295.79 L438.06,295.58 L438.75,295.25 L439.40,296.32 L440.00,294.80 L440.96,294.23 L441.79,293.65 L442.51,294.59 L443.19,293.83 L443.87,293.39 L444.60,292.85 L445.38,290.24 L446.17,289.31 L446.97,288.70 L447.75,287.13 L448.50,286.62 L449.20,286.71 L449.97,286.30 L450.68,285.39 L451.36,282.28 L452.02,283.32 L452.70,282.12 L453.53,280.80 L454.32,281.52 L455.16,279.83 L456.10,279.01 L456.80,276.74 L457.53,277.79 L458.31,277.61 L459.11,274.42 L459.94,276.08 L460.80,274.18 L461.47,274.97 L462.18,277.41 L462.91,275.44 L463.66,275.12 L464.40,273.34 L465.13,275.13 L465.83,273.26 L466.50,273.86 L467.34,275.12 L468.16,271.71 L468.94,275.15 L469.69,271.36 L470.41,274.44 L471.10,275.31 L471.87,274.60 L472.58,272.39 L473.25,272.03 L473.92,277.28 L474.60,275.80 L475.28,276.55 L475.95,276.05 L476.62,279.50 L477.33,279.22 L478.10,280.95 L478.80,280.33 L479.55,283.69 L480.33,282.86 L481.13,286.39 L481.92,287.95 L482.70,287.90 L483.47,289.63 L484.23,291.69 L485.00,291.64 L485.77,293.80 L486.53,293.41 L487.30,294.43 L488.08,294.99 L488.89,295.81 L489.69,296.68 L490.48,296.99 L491.22,297.32 L491.90,296.97 L492.71,298.20 L493.36,297.12 L494.06,298.09 L495.00,297.99 L495.65,297.97 L496.44,297.35 L497.30,297.75 L498.19,297.87 L499.06,297.35 L499.85,297.98 L500.52,297.75 L501.00,297.67" stroke="#504440" stroke-width="0.9" fill="none" stroke-linejoin="round" opacity="0.95"/>
<path d="M426.10,297.72 L426.51,297.72 L426.99,297.78 L427.55,297.97 L428.17,297.98 L428.85,298.08 L429.59,297.64 L430.36,297.75 L431.17,297.69 L432.01,298.05 L432.87,297.87 L433.74,297.65 L434.62,297.77 L435.49,298.05 L436.36,297.83 L437.21,297.55 L438.04,297.95 L438.84,297.97 L439.60,297.89 L440.31,297.62 L440.97,297.52 L441.57,297.94 L442.10,297.92 L443.27,297.83 L444.13,297.75 L444.77,297.61 L445.28,298.17 L445.76,297.99 L446.29,298.02 L446.97,297.26 L447.90,297.29 L448.47,297.70 L449.09,296.85 L449.75,297.45 L450.45,297.06 L451.19,296.36 L451.94,296.36 L452.72,296.23 L453.51,296.33 L454.30,296.37 L455.09,295.75 L455.87,296.09 L456.63,295.80 L457.37,295.43 L458.09,295.61 L458.76,295.05 L459.40,294.45 L460.27,294.30 L461.11,294.28 L461.92,293.91 L462.70,293.89 L463.45,294.05 L464.17,293.26 L464.87,293.26 L465.56,292.57 L466.22,292.05 L466.87,292.33 L467.50,291.77 L468.34,290.94 L469.15,290.77 L469.91,290.38 L470.64,288.89 L471.33,287.84 L471.99,287.21 L472.61,286.52 L473.20,285.41 L474.04,284.42 L474.76,283.16 L475.41,282.17 L476.04,280.99 L476.70,278.50 L477.40,277.98 L478.10,274.95 L478.81,271.54 L479.51,269.41 L480.20,267.42 L481.08,265.93 L481.98,262.25 L482.83,259.35 L483.60,256.46 L484.45,255.74 L485.17,253.66 L485.90,252.31 L486.62,256.35 L487.34,255.21 L488.20,256.67 L488.82,260.16 L489.51,261.87 L490.24,262.39 L490.98,268.53 L491.70,269.27 L492.40,273.22 L493.10,274.23 L493.81,276.86 L494.51,280.86 L495.20,284.39 L496.08,286.43 L496.96,289.35 L497.82,291.65 L498.60,294.02 L499.52,295.91 L500.34,297.08 L501.10,297.87 L502.26,298.20 L503.10,297.60" stroke="#17a071" stroke-width="0.9" fill="none" stroke-linejoin="round" opacity="0.95"/>
<path d="M425.50,298.07 L425.91,297.76 L426.39,297.94 L426.95,297.70 L427.57,298.11 L428.25,297.55 L428.99,297.95 L429.76,298.13 L430.57,297.99 L431.41,297.90 L432.27,298.14 L433.14,297.88 L434.02,297.87 L434.89,297.69 L435.76,297.90 L436.61,297.94 L437.44,297.96 L438.24,297.62 L439.00,297.48 L439.71,297.73 L440.37,297.91 L440.97,297.53 L441.50,297.77 L442.67,297.85 L443.53,297.88 L444.17,297.45 L444.68,297.66 L445.16,297.75 L445.69,297.80 L446.37,297.60 L447.30,297.70 L447.87,296.98 L448.49,297.37 L449.15,296.98 L449.85,296.67 L450.59,296.51 L451.34,296.65 L452.12,296.64 L452.91,296.22 L453.70,296.44 L454.49,295.56 L455.27,295.84 L456.03,295.15 L456.77,295.55 L457.49,295.25 L458.16,295.20 L458.80,294.84 L459.67,294.86 L460.51,294.84 L461.32,293.81 L462.10,294.10 L462.85,293.92 L463.57,293.63 L464.27,293.16 L464.96,292.96 L465.62,292.39 L466.27,292.03 L466.90,292.05 L467.74,290.68 L468.55,290.13 L469.31,290.63 L470.04,288.69 L470.73,287.77 L471.39,287.17 L472.01,287.52 L472.60,285.45 L473.44,284.56 L474.16,284.60 L474.81,283.35 L475.44,279.74 L476.10,278.80 L476.80,278.02 L477.50,276.44 L478.21,274.23 L478.91,271.81 L479.60,267.82 L480.48,266.55 L481.38,264.41 L482.23,258.59 L483.00,257.07 L483.85,258.77 L484.57,255.35 L485.30,256.80 L486.02,255.84 L486.74,256.46 L487.60,256.71 L488.22,258.83 L488.91,260.82 L489.64,265.88 L490.38,266.65 L491.10,269.86 L491.80,271.88 L492.50,275.68 L493.21,277.41 L493.91,281.09 L494.60,284.31 L495.48,287.29 L496.36,290.19 L497.22,292.16 L498.00,294.72 L498.92,296.20 L499.74,297.70 L500.50,297.89 L501.66,298.13 L502.50,297.86" stroke="#e2332f" stroke-width="0.9" fill="none" stroke-linejoin="round" opacity="0.95"/>
<path d="M423.70,228.70 H501.70 V298.20" stroke="#8c8c8c" stroke-width="0.9" fill="none"/>
<line x1="423.70" y1="228.30" x2="423.70" y2="298.70" stroke="#3a3a3a" stroke-width="1"/>
<line x1="423.20" y1="298.20" x2="502.10" y2="298.20" stroke="#3a3a3a" stroke-width="1"/>
<line x1="421.30" y1="298.20" x2="423.70" y2="298.20" stroke="#3a3a3a" stroke-width="1"/>
<text x="413.00" y="301.30" font-size="9.0" textLength="5.00" lengthAdjust="spacingAndGlyphs" fill="#222">0</text>
<line x1="421.30" y1="280.10" x2="423.70" y2="280.10" stroke="#3a3a3a" stroke-width="1"/>
<text x="402.00" y="283.20" font-size="9.0" textLength="16.00" lengthAdjust="spacingAndGlyphs" fill="#222">200</text>
<line x1="421.30" y1="262.00" x2="423.70" y2="262.00" stroke="#3a3a3a" stroke-width="1"/>
<text x="402.00" y="265.10" font-size="9.0" textLength="16.00" lengthAdjust="spacingAndGlyphs" fill="#222">400</text>
<line x1="421.30" y1="243.90" x2="423.70" y2="243.90" stroke="#3a3a3a" stroke-width="1"/>
<text x="402.00" y="247.00" font-size="9.0" textLength="16.00" lengthAdjust="spacingAndGlyphs" fill="#222">600</text>
<line x1="422.50" y1="298.20" x2="423.70" y2="298.20" stroke="#3a3a3a" stroke-width="0.6"/>
<line x1="422.50" y1="294.58" x2="423.70" y2="294.58" stroke="#3a3a3a" stroke-width="0.6"/>
<line x1="422.50" y1="290.96" x2="423.70" y2="290.96" stroke="#3a3a3a" stroke-width="0.6"/>
<line x1="422.50" y1="287.34" x2="423.70" y2="287.34" stroke="#3a3a3a" stroke-width="0.6"/>
<line x1="422.50" y1="283.72" x2="423.70" y2="283.72" stroke="#3a3a3a" stroke-width="0.6"/>
<line x1="422.50" y1="280.10" x2="423.70" y2="280.10" stroke="#3a3a3a" stroke-width="0.6"/>
<line x1="422.50" y1="276.48" x2="423.70" y2="276.48" stroke="#3a3a3a" stroke-width="0.6"/>
<line x1="422.50" y1="272.86" x2="423.70" y2="272.86" stroke="#3a3a3a" stroke-width="0.6"/>
<line x1="422.50" y1="269.24" x2="423.70" y2="269.24" stroke="#3a3a3a" stroke-width="0.6"/>
<line x1="422.50" y1="265.62" x2="423.70" y2="265.62" stroke="#3a3a3a" stroke-width="0.6"/>
<line x1="422.50" y1="262.00" x2="423.70" y2="262.00" stroke="#3a3a3a" stroke-width="0.6"/>
<line x1="422.50" y1="258.38" x2="423.70" y2="258.38" stroke="#3a3a3a" stroke-width="0.6"/>
<line x1="422.50" y1="254.76" x2="423.70" y2="254.76" stroke="#3a3a3a" stroke-width="0.6"/>
<line x1="422.50" y1="251.14" x2="423.70" y2="251.14" stroke="#3a3a3a" stroke-width="0.6"/>
<line x1="422.50" y1="247.52" x2="423.70" y2="247.52" stroke="#3a3a3a" stroke-width="0.6"/>
<line x1="422.50" y1="243.90" x2="423.70" y2="243.90" stroke="#3a3a3a" stroke-width="0.6"/>
<line x1="422.50" y1="240.28" x2="423.70" y2="240.28" stroke="#3a3a3a" stroke-width="0.6"/>
<line x1="422.50" y1="236.66" x2="423.70" y2="236.66" stroke="#3a3a3a" stroke-width="0.6"/>
<line x1="422.50" y1="233.04" x2="423.70" y2="233.04" stroke="#3a3a3a" stroke-width="0.6"/>
<line x1="422.50" y1="229.42" x2="423.70" y2="229.42" stroke="#3a3a3a" stroke-width="0.6"/>
<line x1="423.50" y1="298.20" x2="423.50" y2="300.40" stroke="#3a3a3a" stroke-width="0.9"/>
<line x1="427.86" y1="298.20" x2="427.86" y2="299.20" stroke="#3a3a3a" stroke-width="0.5"/>
<line x1="430.42" y1="298.20" x2="430.42" y2="299.20" stroke="#3a3a3a" stroke-width="0.5"/>
<line x1="432.23" y1="298.20" x2="432.23" y2="299.20" stroke="#3a3a3a" stroke-width="0.5"/>
<line x1="433.64" y1="298.20" x2="433.64" y2="299.20" stroke="#3a3a3a" stroke-width="0.5"/>
<line x1="434.78" y1="298.20" x2="434.78" y2="299.20" stroke="#3a3a3a" stroke-width="0.5"/>
<line x1="435.75" y1="298.20" x2="435.75" y2="299.20" stroke="#3a3a3a" stroke-width="0.5"/>
<line x1="436.59" y1="298.20" x2="436.59" y2="299.20" stroke="#3a3a3a" stroke-width="0.5"/>
<line x1="437.34" y1="298.20" x2="437.34" y2="299.20" stroke="#3a3a3a" stroke-width="0.5"/>
<text transform="translate(429.70,311.60) rotate(-45)" x="0" y="0" font-size="9.0" text-anchor="end" fill="#222">10<tspan font-size="7.2" dy="-3.6">0</tspan></text>
<line x1="438.00" y1="298.20" x2="438.00" y2="300.40" stroke="#3a3a3a" stroke-width="0.9"/>
<line x1="442.36" y1="298.20" x2="442.36" y2="299.20" stroke="#3a3a3a" stroke-width="0.5"/>
<line x1="444.92" y1="298.20" x2="444.92" y2="299.20" stroke="#3a3a3a" stroke-width="0.5"/>
<line x1="446.73" y1="298.20" x2="446.73" y2="299.20" stroke="#3a3a3a" stroke-width="0.5"/>
<line x1="448.14" y1="298.20" x2="448.14" y2="299.20" stroke="#3a3a3a" stroke-width="0.5"/>
<line x1="449.28" y1="298.20" x2="449.28" y2="299.20" stroke="#3a3a3a" stroke-width="0.5"/>
<line x1="450.25" y1="298.20" x2="450.25" y2="299.20" stroke="#3a3a3a" stroke-width="0.5"/>
<line x1="451.09" y1="298.20" x2="451.09" y2="299.20" stroke="#3a3a3a" stroke-width="0.5"/>
<line x1="451.84" y1="298.20" x2="451.84" y2="299.20" stroke="#3a3a3a" stroke-width="0.5"/>
<text transform="translate(444.20,311.60) rotate(-45)" x="0" y="0" font-size="9.0" text-anchor="end" fill="#222">10<tspan font-size="7.2" dy="-3.6">1</tspan></text>
<line x1="452.50" y1="298.20" x2="452.50" y2="300.40" stroke="#3a3a3a" stroke-width="0.9"/>
<line x1="456.86" y1="298.20" x2="456.86" y2="299.20" stroke="#3a3a3a" stroke-width="0.5"/>
<line x1="459.42" y1="298.20" x2="459.42" y2="299.20" stroke="#3a3a3a" stroke-width="0.5"/>
<line x1="461.23" y1="298.20" x2="461.23" y2="299.20" stroke="#3a3a3a" stroke-width="0.5"/>
<line x1="462.64" y1="298.20" x2="462.64" y2="299.20" stroke="#3a3a3a" stroke-width="0.5"/>
<line x1="463.78" y1="298.20" x2="463.78" y2="299.20" stroke="#3a3a3a" stroke-width="0.5"/>
<line x1="464.75" y1="298.20" x2="464.75" y2="299.20" stroke="#3a3a3a" stroke-width="0.5"/>
<line x1="465.59" y1="298.20" x2="465.59" y2="299.20" stroke="#3a3a3a" stroke-width="0.5"/>
<line x1="466.34" y1="298.20" x2="466.34" y2="299.20" stroke="#3a3a3a" stroke-width="0.5"/>
<text transform="translate(458.70,311.60) rotate(-45)" x="0" y="0" font-size="9.0" text-anchor="end" fill="#222">10<tspan font-size="7.2" dy="-3.6">2</tspan></text>
<line x1="467.00" y1="298.20" x2="467.00" y2="300.40" stroke="#3a3a3a" stroke-width="0.9"/>
<line x1="471.36" y1="298.20" x2="471.36" y2="299.20" stroke="#3a3a3a" stroke-width="0.5"/>
<line x1="473.92" y1="298.20" x2="473.92" y2="299.20" stroke="#3a3a3a" stroke-width="0.5"/>
<line x1="475.73" y1="298.20" x2="475.73" y2="299.20" stroke="#3a3a3a" stroke-width="0.5"/>
<line x1="477.14" y1="298.20" x2="477.14" y2="299.20" stroke="#3a3a3a" stroke-width="0.5"/>
<line x1="478.28" y1="298.20" x2="478.28" y2="299.20" stroke="#3a3a3a" stroke-width="0.5"/>
<line x1="479.25" y1="298.20" x2="479.25" y2="299.20" stroke="#3a3a3a" stroke-width="0.5"/>
<line x1="480.09" y1="298.20" x2="480.09" y2="299.20" stroke="#3a3a3a" stroke-width="0.5"/>
<line x1="480.84" y1="298.20" x2="480.84" y2="299.20" stroke="#3a3a3a" stroke-width="0.5"/>
<text transform="translate(473.20,311.60) rotate(-45)" x="0" y="0" font-size="9.0" text-anchor="end" fill="#222">10<tspan font-size="7.2" dy="-3.6">3</tspan></text>
<line x1="481.50" y1="298.20" x2="481.50" y2="300.40" stroke="#3a3a3a" stroke-width="0.9"/>
<line x1="485.86" y1="298.20" x2="485.86" y2="299.20" stroke="#3a3a3a" stroke-width="0.5"/>
<line x1="488.42" y1="298.20" x2="488.42" y2="299.20" stroke="#3a3a3a" stroke-width="0.5"/>
<line x1="490.23" y1="298.20" x2="490.23" y2="299.20" stroke="#3a3a3a" stroke-width="0.5"/>
<line x1="491.64" y1="298.20" x2="491.64" y2="299.20" stroke="#3a3a3a" stroke-width="0.5"/>
<line x1="492.78" y1="298.20" x2="492.78" y2="299.20" stroke="#3a3a3a" stroke-width="0.5"/>
<line x1="493.75" y1="298.20" x2="493.75" y2="299.20" stroke="#3a3a3a" stroke-width="0.5"/>
<line x1="494.59" y1="298.20" x2="494.59" y2="299.20" stroke="#3a3a3a" stroke-width="0.5"/>
<line x1="495.34" y1="298.20" x2="495.34" y2="299.20" stroke="#3a3a3a" stroke-width="0.5"/>
<text transform="translate(487.70,311.60) rotate(-45)" x="0" y="0" font-size="9.0" text-anchor="end" fill="#222">10<tspan font-size="7.2" dy="-3.6">4</tspan></text>
<line x1="496.00" y1="298.20" x2="496.00" y2="300.40" stroke="#3a3a3a" stroke-width="0.9"/>
<text transform="translate(502.20,311.60) rotate(-45)" x="0" y="0" font-size="9.0" text-anchor="end" fill="#222">10<tspan font-size="7.2" dy="-3.6">5</tspan></text>
<text transform="translate(395.20,273.00) rotate(-90)" x="0" y="0" font-size="10.4" textLength="18.30" lengthAdjust="spacingAndGlyphs" stroke="#222" stroke-width="0.33" fill="#222">Count</text>
<text x="477.10" y="241.20" font-size="8.6" textLength="20.80" lengthAdjust="spacingAndGlyphs" fill="#222">24 hr</text>
<text x="410.00" y="336.60" font-size="10.9" textLength="104.00" lengthAdjust="spacingAndGlyphs" stroke="#222" stroke-width="0.33" fill="#222">R670 30-A :: fibrinogen Ax647</text>
<text x="7.90" y="379.30" font-size="13.0" font-weight="bold" fill="#111">C</text>
<text x="64.40" y="386.50" font-size="9.2" textLength="26.00" lengthAdjust="spacingAndGlyphs" font-style="italic" fill="#222">siRNA</text>
<path d="M5.5,5.6 Q5.0,8.0 7.2,8.8 L8.4,9.4 M9.2,9.4 L11.2,8.4 M15.0,4.0 Q13.8,6.6 15.6,7.8 M16.9,7.6 L19.0,6.7 M20.0,7.5 Q20.6,9.6 22.4,10.4 L24.8,10.5 M25.6,10.4 L26.4,11.0 M12.0,9.3 Q12.3,11.6 14.4,12.4 M16.7,11.5 L17.5,11.9 M9.6,12.6 Q9.3,15.2 11.6,16.3 L13.4,15.2 M15.6,15.6 Q17.0,17.6 18.6,17.2 L20.6,16.3 M21.4,16.5 L22.0,17.0" transform="translate(66.00,385.00)" stroke="#1a1a1a" stroke-width="1.3" fill="none" stroke-linecap="round" stroke-linejoin="round"/>
<ellipse cx="58.65" cy="412.40" rx="15.75" ry="4.90" fill="none" stroke="#262626" stroke-width="0.95"/>
<line x1="42.90" y1="412.40" x2="42.90" y2="421.30" stroke="#262626" stroke-width="0.95"/>
<line x1="74.40" y1="412.40" x2="74.40" y2="421.30" stroke="#262626" stroke-width="0.95"/>
<path d="M42.90,421.30 A15.75,7.3 0 0 0 74.40,421.30" stroke="#262626" stroke-width="0.95" fill="none" />
<circle cx="52.20" cy="419.00" r="0.7" fill="#262626"/>
<path d="M54.30,419.80 Q57.15,417.00 59.90,419.60" stroke="#262626" stroke-width="0.8" fill="none" />
<ellipse cx="62.50" cy="419.00" rx="1.3" ry="0.95" fill="none" stroke="#262626" stroke-width="0.75"/>
<circle cx="47.40" cy="420.80" r="0.65" fill="#262626"/>
<ellipse cx="52.20" cy="424.20" rx="1.5" ry="1.1" fill="#777" stroke="#262626" stroke-width="0.6"/>
<ellipse cx="59.10" cy="424.70" rx="3.0" ry="1.7" fill="none" stroke="#262626" stroke-width="0.8"/>
<path d="M64.05,421.80 q0.8,-1.0 1.6,-0.2 q0.8,0.8 1.6,-0.2" stroke="#262626" stroke-width="0.7" fill="none" />
<circle cx="70.30" cy="420.40" r="0.65" fill="#262626"/>
<text x="30.40" y="441.20" font-size="9.2" textLength="57.60" lengthAdjust="spacingAndGlyphs" fill="#222">pma-HEL cells</text>
<line x1="79.90" y1="416.50" x2="100.10" y2="416.50" stroke="#111" stroke-width="1.2"/>
<path d="M104.10,416.50 L97.10,413.70 L98.90,416.50 L97.10,419.30 Z" fill="#111"/>
<path d="M91.40,408.20 C91.40,412.70 92.60,416.20 96.20,416.50" stroke="#111" stroke-width="1.0" fill="none" />
<path d="M117.90,405.20 L120.50,406.80 L124.00,407.60 L128.00,407.30 L132.00,407.60 L134.60,408.30 L133.50,410.20 L131.40,412.50 L131.20,415.50 L132.40,418.50 L133.40,420.80 L129.00,421.00 L124.50,420.30 L119.00,420.90 L114.00,421.20 L109.60,421.50 L110.40,418.80 L112.20,416.20 L110.60,413.60 L112.80,410.50 L115.50,407.50 Z" fill="#c8cff0" stroke="#6472b2" stroke-width="0.9" stroke-linejoin="round"/>
<ellipse cx="121.40" cy="416.60" rx="2.30" ry="1.90" fill="#a3aedd" stroke="#2e3b78" stroke-width="0.95"/>
<ellipse cx="124.60" cy="412.40" rx="2.00" ry="1.70" fill="#a3aedd" stroke="#2e3b78" stroke-width="0.95"/>
<ellipse cx="125.60" cy="416.80" rx="1.90" ry="1.80" fill="#a3aedd" stroke="#2e3b78" stroke-width="0.95"/>
<ellipse cx="128.20" cy="414.60" rx="1.50" ry="1.40" fill="#a3aedd" stroke="#2e3b78" stroke-width="0.95"/>
<text x="110.80" y="437.30" font-size="9.2" textLength="23.00" lengthAdjust="spacingAndGlyphs" fill="#222">media</text>
<text x="104.60" y="447.90" font-size="9.2" textLength="36.60" lengthAdjust="spacingAndGlyphs" fill="#222">with FBS</text>
<text x="126.70" y="387.10" font-size="9.5" textLength="41.80" lengthAdjust="spacingAndGlyphs" font-style="italic" fill="#222">Fibrinogen</text>
<text x="128.00" y="397.60" font-size="9.5" textLength="37.60" lengthAdjust="spacingAndGlyphs" font-style="italic" fill="#222">50 ug/mL</text>
<line x1="139.20" y1="416.50" x2="158.70" y2="416.50" stroke="#111" stroke-width="1.2"/>
<path d="M162.70,416.50 L155.70,413.70 L157.50,416.50 L155.70,419.30 Z" fill="#111"/>
<path d="M151.00,408.50 C151.00,413.00 152.20,416.20 155.80,416.50" stroke="#111" stroke-width="1.0" fill="none" />
<path d="M174.00,400.20 H183.80 V420.99 C183.80,428.20 181.06,431.70 178.90,431.70 C176.74,431.70 174.00,428.20 174.00,420.99 Z" fill="#eceef8" stroke="#808088" stroke-width="0.9"/>
<path d="M174.45,400.65 H183.35 V409.00 Q178.90,411.60 174.45,409.00 Z" fill="#f0f0f0"/>
<path d="M174.00,409.00 Q178.90,411.60 183.80,409.00" stroke="#808088" stroke-width="0.8" fill="none" />
<path d="M174.90,416.00 L176.70,412.80 L179.10,412.40 L180.90,413.20 L182.40,415.60 L180.90,418.20 L178.50,418.50 L176.30,418.00 Z" fill="#a7b0de" stroke="#2a3673" stroke-width="0.95" stroke-linejoin="round"/>
<path d="M176.90,415.70 L178.90,414.00 L180.50,416.00 L178.70,417.20 Z" fill="#26316c"/>
<path d="M175.30,423.20 L177.10,420.00 L179.50,419.60 L181.30,420.40 L182.80,422.80 L181.30,425.40 L178.90,425.70 L176.70,425.20 Z" fill="#a7b0de" stroke="#2a3673" stroke-width="0.95" stroke-linejoin="round"/>
<path d="M177.30,422.90 L179.30,421.20 L180.90,423.20 L179.10,424.40 Z" fill="#26316c"/>
<path d="M187.30,400.20 H197.10 V420.99 C197.10,428.20 194.36,431.70 192.20,431.70 C190.04,431.70 187.30,428.20 187.30,420.99 Z" fill="#eceef8" stroke="#808088" stroke-width="0.9"/>
<path d="M187.75,400.65 H196.65 V409.00 Q192.20,411.60 187.75,409.00 Z" fill="#f0f0f0"/>
<path d="M187.30,409.00 Q192.20,411.60 197.10,409.00" stroke="#808088" stroke-width="0.8" fill="none" />
<path d="M188.20,416.00 L190.00,412.80 L192.40,412.40 L194.20,413.20 L195.70,415.60 L194.20,418.20 L191.80,418.50 L189.60,418.00 Z" fill="#a7b0de" stroke="#2a3673" stroke-width="0.95" stroke-linejoin="round"/>
<path d="M190.20,415.70 L192.20,414.00 L193.80,416.00 L192.00,417.20 Z" fill="#26316c"/>
<path d="M188.60,423.20 L190.40,420.00 L192.80,419.60 L194.60,420.40 L196.10,422.80 L194.60,425.40 L192.20,425.70 L190.00,425.20 Z" fill="#a7b0de" stroke="#2a3673" stroke-width="0.95" stroke-linejoin="round"/>
<path d="M190.60,422.90 L192.60,421.20 L194.20,423.20 L192.40,424.40 Z" fill="#26316c"/>
<text x="164.80" y="440.00" font-size="9.2" textLength="42.30" lengthAdjust="spacingAndGlyphs" fill="#222">24hr incub.</text>
<text x="166.20" y="450.20" font-size="9.2" textLength="40.30" lengthAdjust="spacingAndGlyphs" fill="#222">Fibrinogen</text>
<text x="208.00" y="389.70" font-size="9.5" textLength="22.20" lengthAdjust="spacingAndGlyphs" font-style="italic" fill="#222">Wash</text>
<text x="209.60" y="400.60" font-size="9.5" textLength="18.70" lengthAdjust="spacingAndGlyphs" font-style="italic" fill="#222">cells</text>
<line x1="209.00" y1="415.00" x2="229.00" y2="415.00" stroke="#111" stroke-width="1.2"/>
<path d="M233.00,415.00 L226.00,412.20 L227.80,415.00 L226.00,417.80 Z" fill="#111"/>
<path d="M221.20,407.00 C221.20,411.50 222.40,414.70 226.00,415.00" stroke="#111" stroke-width="1.0" fill="none" />
<rect x="240.80" y="396.10" width="53.00" height="33.10" fill="#dcdcdf" stroke="#9a9a9e" stroke-width="0.9" />
<line x1="245.40" y1="400.40" x2="253.80" y2="400.40" stroke="#5c4a80" stroke-width="1.3"/>
<line x1="245.40" y1="405.80" x2="253.80" y2="405.80" stroke="#5c4a80" stroke-width="1.3"/>
<line x1="245.40" y1="412.20" x2="253.80" y2="412.20" stroke="#5c4a80" stroke-width="1.3"/>
<line x1="245.40" y1="417.60" x2="253.80" y2="417.60" stroke="#5c4a80" stroke-width="1.3"/>
<line x1="245.40" y1="423.20" x2="253.80" y2="423.20" stroke="#5c4a80" stroke-width="1.3"/>
<line x1="256.20" y1="402.70" x2="265.00" y2="402.70" stroke="#a52c3c" stroke-width="1.5"/>
<line x1="256.20" y1="406.50" x2="265.00" y2="406.50" stroke="#3f8a5c" stroke-width="1.5"/>
<line x1="269.70" y1="402.70" x2="278.00" y2="402.70" stroke="#a52c3c" stroke-width="1.5"/>
<line x1="269.70" y1="406.50" x2="278.00" y2="406.50" stroke="#3f8a5c" stroke-width="1.5"/>
<line x1="282.60" y1="402.70" x2="291.20" y2="402.70" stroke="#a52c3c" stroke-width="1.5"/>
<line x1="282.60" y1="406.50" x2="291.20" y2="406.50" stroke="#3f8a5c" stroke-width="1.5"/>
<text x="237.70" y="439.20" font-size="9.2" textLength="59.50" lengthAdjust="spacingAndGlyphs" fill="#222">Immunoblotting</text>
<text x="133.10" y="478.50" font-size="8.6" textLength="25.60" lengthAdjust="spacingAndGlyphs" fill="#222">siRNA</text>
<line x1="133.10" y1="480.00" x2="158.70" y2="480.00" stroke="#161616" stroke-width="0.8"/>
<text transform="translate(143.80,510.80) rotate(-90)" x="0" y="0" font-size="9.0" textLength="28.90" lengthAdjust="spacingAndGlyphs" fill="#222">Control</text>
<text transform="translate(157.70,510.80) rotate(-90)" x="0" y="0" font-size="9.0" textLength="26.60" lengthAdjust="spacingAndGlyphs" fill="#222">RUNX1</text>
<text x="76.20" y="524.20" font-size="9.2" textLength="48.40" lengthAdjust="spacingAndGlyphs" fill="#222">γ Fibrinogen</text>
<text x="93.50" y="539.60" font-size="9.2" textLength="30.30" lengthAdjust="spacingAndGlyphs" fill="#222">RUNX1</text>
<text x="104.60" y="553.10" font-size="9.2" textLength="19.60" lengthAdjust="spacingAndGlyphs" fill="#222">Actin</text>
<text x="168.90" y="523.80" font-size="9.2" textLength="26.00" lengthAdjust="spacingAndGlyphs" fill="#222">52kDa</text>
<text x="168.90" y="538.80" font-size="9.2" textLength="26.00" lengthAdjust="spacingAndGlyphs" fill="#222">52kDa</text>
<text x="168.90" y="553.00" font-size="9.2" textLength="26.00" lengthAdjust="spacingAndGlyphs" fill="#222">43kDa</text>
<rect x="128.50" y="514.50" width="36.00" height="12.00" fill="#a9a9a9" stroke="#4a4a4a" stroke-width="0.9" />
<rect x="145.20" y="515.00" width="4.40" height="11.00" fill="#cdcdcd" />
<rect x="129.50" y="515.20" width="15.00" height="1.30" fill="#151515" filter="url(#bl2)"/>
<rect x="129.6" y="518.4" width="15.2" height="5.6" rx="1.5" fill="#080808" filter="url(#bl)"/>
<rect x="150.2" y="516.4" width="13.2" height="4.6" rx="1.5" fill="#1e1e1e" filter="url(#bl)"/>
<rect x="150.50" y="521.80" width="12.80" height="3.80" fill="#8e8e8e" filter="url(#bl)"/>
<rect x="128.50" y="529.50" width="36.00" height="12.00" fill="#c4c4c4" stroke="#4a4a4a" stroke-width="0.9" />
<rect x="145.50" y="530.00" width="4.20" height="11.00" fill="#d6d6d6" />
<rect x="129.8" y="533.2" width="15.0" height="3.6" rx="1.5" fill="#141414" filter="url(#bl)"/>
<rect x="130.00" y="537.50" width="14.60" height="3.00" fill="#aaaaaa" filter="url(#bl)"/>
<rect x="150.4" y="533.6" width="12.6" height="2.8" rx="1.2" fill="#a4a4a4" filter="url(#bl)"/>
<rect x="128.50" y="543.50" width="36.00" height="13.00" fill="#f6f6f6" stroke="#4a4a4a" stroke-width="0.9" />
<rect x="130.8" y="547.3" width="14.0" height="4.3" rx="2.1" fill="#1c1c1c" filter="url(#bl2)"/>
<rect x="149.3" y="547.3" width="13.6" height="4.3" rx="2.1" fill="#1c1c1c" filter="url(#bl2)"/>
<line x1="256.50" y1="461.20" x2="256.50" y2="552.00" stroke="#161616" stroke-width="1.2"/>
<line x1="253.50" y1="551.40" x2="256.50" y2="551.40" stroke="#161616" stroke-width="1"/>
<text x="236.90" y="554.30" font-size="8.8" textLength="12.40" lengthAdjust="spacingAndGlyphs" fill="#222">0.0</text>
<line x1="253.50" y1="521.50" x2="256.50" y2="521.50" stroke="#161616" stroke-width="1"/>
<text x="236.90" y="524.40" font-size="8.8" textLength="12.40" lengthAdjust="spacingAndGlyphs" fill="#222">0.5</text>
<line x1="253.50" y1="491.60" x2="256.50" y2="491.60" stroke="#161616" stroke-width="1"/>
<text x="236.90" y="494.50" font-size="8.8" textLength="12.40" lengthAdjust="spacingAndGlyphs" fill="#222">1.0</text>
<line x1="253.50" y1="461.70" x2="256.50" y2="461.70" stroke="#161616" stroke-width="1"/>
<text x="236.90" y="464.60" font-size="8.8" textLength="12.40" lengthAdjust="spacingAndGlyphs" fill="#222">1.5</text>
<line x1="256.50" y1="551.40" x2="345.40" y2="551.40" stroke="#161616" stroke-width="1.3"/>
<rect x="263.20" y="491.60" width="11.50" height="59.80" fill="#4a5568" />
<line x1="268.95" y1="491.60" x2="268.95" y2="483.50" stroke="#161616" stroke-width="1"/>
<line x1="265.75" y1="483.50" x2="272.15" y2="483.50" stroke="#161616" stroke-width="1.1"/>
<rect x="280.50" y="516.24" width="12.10" height="35.16" fill="#cc0a2a" />
<line x1="286.55" y1="516.24" x2="286.55" y2="510.40" stroke="#161616" stroke-width="1"/>
<line x1="283.35" y1="510.40" x2="289.75" y2="510.40" stroke="#161616" stroke-width="1.1"/>
<rect x="310.80" y="491.60" width="11.50" height="59.80" fill="#4a5568" />
<line x1="316.55" y1="491.60" x2="316.55" y2="483.90" stroke="#161616" stroke-width="1"/>
<line x1="313.35" y1="483.90" x2="319.75" y2="483.90" stroke="#161616" stroke-width="1.1"/>
<rect x="328.20" y="525.69" width="11.80" height="25.71" fill="#cc0a2a" />
<line x1="334.10" y1="525.69" x2="334.10" y2="521.60" stroke="#161616" stroke-width="1"/>
<line x1="330.90" y1="521.60" x2="337.30" y2="521.60" stroke="#161616" stroke-width="1.1"/>
<path d="M268.90,482.80 V475.00 H286.50 V508.80" stroke="#161616" stroke-width="1" fill="none" />
<path d="M316.50,483.00 V475.00 H334.10 V518.50" stroke="#161616" stroke-width="1" fill="none" />
<line x1="277.70" y1="551.40" x2="277.70" y2="554.00" stroke="#161616" stroke-width="1"/>
<line x1="325.40" y1="551.40" x2="325.40" y2="554.00" stroke="#161616" stroke-width="1"/>
<text x="261.20" y="472.70" font-size="8.9" textLength="32.30" lengthAdjust="spacingAndGlyphs" fill="#222"><tspan font-style="italic">P</tspan> &lt; .001</text>
<text x="306.20" y="472.70" font-size="8.9" textLength="38.40" lengthAdjust="spacingAndGlyphs" fill="#222"><tspan font-style="italic">P</tspan> &lt; .0001</text>
<text transform="translate(230.30,542.90) rotate(-90)" x="0" y="0" font-size="9.8" textLength="83.40" lengthAdjust="spacingAndGlyphs" stroke="#222" stroke-width="0.33" fill="#222">Relative protein expression</text>
<text x="253.50" y="566.00" font-size="8.6" fill="#222">γ Fibrinogen</text>
<text x="311.50" y="565.50" font-size="8.6" textLength="27.00" lengthAdjust="spacingAndGlyphs" fill="#222">RUNX1</text>
<text x="357.70" y="464.70" font-size="8.0" textLength="23.50" lengthAdjust="spacingAndGlyphs" fill="#222">siRNA</text>
<rect x="348.60" y="469.90" width="6.30" height="5.90" fill="#4a5568" />
<rect x="348.60" y="480.90" width="6.30" height="6.00" fill="#cc0a2a" />
<text x="358.80" y="475.80" font-size="8.6" textLength="26.90" lengthAdjust="spacingAndGlyphs" fill="#222">Control</text>
<text x="358.80" y="486.50" font-size="8.6" textLength="27.40" lengthAdjust="spacingAndGlyphs" fill="#222">RUNX1</text>
<text x="345.80" y="531.50" font-size="8.6" textLength="20.40" lengthAdjust="spacingAndGlyphs" fill="#222">N = 4</text>
<text x="345.80" y="541.20" font-size="8.6" textLength="47.70" lengthAdjust="spacingAndGlyphs" fill="#222">Mean ± SEM</text>
<text x="7.90" y="598.40" font-size="13.0" font-weight="bold" fill="#111">D</text>
<text x="57.30" y="601.50" font-size="9.2" textLength="25.40" lengthAdjust="spacingAndGlyphs" font-style="italic" fill="#222">siRNA</text>
<path d="M5.5,5.6 Q5.0,8.0 7.2,8.8 L8.4,9.4 M9.2,9.4 L11.2,8.4 M15.0,4.0 Q13.8,6.6 15.6,7.8 M16.9,7.6 L19.0,6.7 M20.0,7.5 Q20.6,9.6 22.4,10.4 L24.8,10.5 M25.6,10.4 L26.4,11.0 M12.0,9.3 Q12.3,11.6 14.4,12.4 M16.7,11.5 L17.5,11.9 M9.6,12.6 Q9.3,15.2 11.6,16.3 L13.4,15.2 M15.6,15.6 Q17.0,17.6 18.6,17.2 L20.6,16.3 M21.4,16.5 L22.0,17.0" transform="translate(59.40,599.60)" stroke="#1a1a1a" stroke-width="1.3" fill="none" stroke-linecap="round" stroke-linejoin="round"/>
<ellipse cx="51.95" cy="627.90" rx="15.75" ry="4.90" fill="none" stroke="#262626" stroke-width="0.95"/>
<line x1="36.20" y1="627.90" x2="36.20" y2="636.80" stroke="#262626" stroke-width="0.95"/>
<line x1="67.70" y1="627.90" x2="67.70" y2="636.80" stroke="#262626" stroke-width="0.95"/>
<path d="M36.20,636.80 A15.75,7.3 0 0 0 67.70,636.80" stroke="#262626" stroke-width="0.95" fill="none" />
<circle cx="45.50" cy="634.50" r="0.7" fill="#262626"/>
<path d="M47.60,635.30 Q50.45,632.50 53.20,635.10" stroke="#262626" stroke-width="0.8" fill="none" />
<ellipse cx="55.80" cy="634.50" rx="1.3" ry="0.95" fill="none" stroke="#262626" stroke-width="0.75"/>
<circle cx="40.70" cy="636.30" r="0.65" fill="#262626"/>
<ellipse cx="45.50" cy="639.70" rx="1.5" ry="1.1" fill="#777" stroke="#262626" stroke-width="0.6"/>
<ellipse cx="52.40" cy="640.20" rx="3.0" ry="1.7" fill="none" stroke="#262626" stroke-width="0.8"/>
<path d="M57.35,637.30 q0.8,-1.0 1.6,-0.2 q0.8,0.8 1.6,-0.2" stroke="#262626" stroke-width="0.7" fill="none" />
<circle cx="63.60" cy="635.90" r="0.65" fill="#262626"/>
<text x="22.70" y="657.30" font-size="9.2" textLength="57.70" lengthAdjust="spacingAndGlyphs" fill="#222">pma-HEL cells</text>
<line x1="74.00" y1="632.00" x2="93.10" y2="632.00" stroke="#111" stroke-width="1.2"/>
<path d="M97.10,632.00 L90.10,629.20 L91.90,632.00 L90.10,634.80 Z" fill="#111"/>
<path d="M86.20,624.60 C86.20,629.10 87.40,631.70 91.00,632.00" stroke="#111" stroke-width="1.0" fill="none" />
<path d="M111.90,620.40 L114.40,621.94 L117.76,622.70 L121.60,622.42 L125.44,622.70 L127.93,623.38 L126.88,625.20 L124.86,627.41 L124.67,630.29 L125.82,633.17 L126.78,635.38 L122.56,635.57 L118.24,634.90 L112.96,635.47 L108.16,635.76 L103.93,636.05 L104.70,633.46 L106.43,630.96 L104.89,628.46 L107.00,625.49 L109.60,622.61 Z" fill="#c8cff0" stroke="#6472b2" stroke-width="0.9" stroke-linejoin="round"/>
<ellipse cx="115.26" cy="631.34" rx="2.21" ry="1.82" fill="#a3aedd" stroke="#2e3b78" stroke-width="0.95"/>
<ellipse cx="118.33" cy="627.31" rx="1.92" ry="1.63" fill="#a3aedd" stroke="#2e3b78" stroke-width="0.95"/>
<ellipse cx="119.29" cy="631.54" rx="1.82" ry="1.73" fill="#a3aedd" stroke="#2e3b78" stroke-width="0.95"/>
<ellipse cx="121.79" cy="629.42" rx="1.44" ry="1.34" fill="#a3aedd" stroke="#2e3b78" stroke-width="0.95"/>
<text x="102.50" y="652.70" font-size="9.2" textLength="23.10" lengthAdjust="spacingAndGlyphs" fill="#222">media</text>
<text x="96.20" y="663.70" font-size="9.2" textLength="35.70" lengthAdjust="spacingAndGlyphs" fill="#222">with FBS</text>
<text x="123.10" y="603.10" font-size="9.2" textLength="40.90" lengthAdjust="spacingAndGlyphs" fill="#222">Fibrinogen</text>
<text x="124.60" y="614.20" font-size="9.2" textLength="38.10" lengthAdjust="spacingAndGlyphs" fill="#222">50 ug/mL</text>
<line x1="135.80" y1="631.50" x2="154.30" y2="631.50" stroke="#111" stroke-width="1.2"/>
<path d="M158.30,631.50 L151.30,628.70 L153.10,631.50 L151.30,634.30 Z" fill="#111"/>
<path d="M146.70,623.80 C146.70,628.30 147.90,631.20 151.50,631.50" stroke="#111" stroke-width="1.0" fill="none" />
<path d="M164.00,615.00 H174.60 V636.32 C174.60,643.80 171.63,647.30 169.30,647.30 C166.97,647.30 164.00,643.80 164.00,636.32 Z" fill="#eceef8" stroke="#808088" stroke-width="0.9"/>
<path d="M164.45,615.45 H174.15 V623.80 Q169.30,626.40 164.45,623.80 Z" fill="#f0f0f0"/>
<path d="M164.00,623.80 Q169.30,626.40 174.60,623.80" stroke="#808088" stroke-width="0.8" fill="none" />
<path d="M164.98,631.19 L166.92,627.99 L169.52,627.59 L171.47,628.39 L173.09,630.79 L171.47,633.39 L168.87,633.69 L166.49,633.19 Z" fill="#a7b0de" stroke="#2a3673" stroke-width="0.95" stroke-linejoin="round"/>
<path d="M167.14,630.89 L169.30,629.19 L171.03,631.19 L169.09,632.39 Z" fill="#26316c"/>
<path d="M165.40,638.57 L167.35,635.37 L169.94,634.97 L171.89,635.77 L173.51,638.17 L171.89,640.77 L169.30,641.07 L166.92,640.57 Z" fill="#a7b0de" stroke="#2a3673" stroke-width="0.95" stroke-linejoin="round"/>
<path d="M167.57,638.27 L169.73,636.57 L171.46,638.57 L169.51,639.77 Z" fill="#26316c"/>
<path d="M177.50,615.00 H188.10 V636.32 C188.10,643.80 185.13,647.30 182.80,647.30 C180.47,647.30 177.50,643.80 177.50,636.32 Z" fill="#eceef8" stroke="#808088" stroke-width="0.9"/>
<path d="M177.95,615.45 H187.65 V623.80 Q182.80,626.40 177.95,623.80 Z" fill="#f0f0f0"/>
<path d="M177.50,623.80 Q182.80,626.40 188.10,623.80" stroke="#808088" stroke-width="0.8" fill="none" />
<path d="M178.48,631.19 L180.42,627.99 L183.02,627.59 L184.97,628.39 L186.59,630.79 L184.97,633.39 L182.37,633.69 L179.99,633.19 Z" fill="#a7b0de" stroke="#2a3673" stroke-width="0.95" stroke-linejoin="round"/>
<path d="M180.64,630.89 L182.80,629.19 L184.53,631.19 L182.59,632.39 Z" fill="#26316c"/>
<path d="M178.90,638.57 L180.85,635.37 L183.44,634.97 L185.39,635.77 L187.01,638.17 L185.39,640.77 L182.80,641.07 L180.42,640.57 Z" fill="#a7b0de" stroke="#2a3673" stroke-width="0.95" stroke-linejoin="round"/>
<path d="M181.07,638.27 L183.23,636.57 L184.96,638.57 L183.01,639.77 Z" fill="#26316c"/>
<text x="150.00" y="656.30" font-size="9.2" textLength="51.20" lengthAdjust="spacingAndGlyphs" fill="#222">Fibrinogen in</text>
<text x="144.20" y="666.30" font-size="9.2" textLength="62.10" lengthAdjust="spacingAndGlyphs" fill="#222">media with FBS</text>
<text x="158.80" y="676.90" font-size="9.2" textLength="32.70" lengthAdjust="spacingAndGlyphs" fill="#222">for 24 hr</text>
<text x="196.70" y="616.00" font-size="9.5" textLength="20.60" lengthAdjust="spacingAndGlyphs" font-style="italic" fill="#222">wash</text>
<line x1="200.00" y1="629.40" x2="219.70" y2="629.40" stroke="#111" stroke-width="1.2"/>
<path d="M223.70,629.40 L216.70,626.60 L218.50,629.40 L216.70,632.20 Z" fill="#111"/>
<path d="M212.10,621.70 C212.10,626.20 213.30,629.10 216.90,629.40" stroke="#111" stroke-width="1.0" fill="none" />
<text x="233.10" y="598.10" font-size="9.2" textLength="47.30" lengthAdjust="spacingAndGlyphs" fill="#222">HEL cells in</text>
<text x="236.20" y="609.00" font-size="9.2" textLength="40.70" lengthAdjust="spacingAndGlyphs" fill="#222">free Buffer</text>
<circle cx="257.70" cy="628.00" r="10.2" fill="none" stroke="#111" stroke-width="1.9"/>
<path d="M257.70,628.00 L257.70,620.80 A7.2,7.2 0 0 1 264.65,629.86 Z" fill="#111"/>
<line x1="257.70" y1="617.50" x2="257.70" y2="614.40" stroke="#111" stroke-width="1.6"/>
<line x1="253.70" y1="613.80" x2="261.70" y2="613.80" stroke="#111" stroke-width="1.7"/>
<line x1="265.20" y1="620.50" x2="266.89" y2="618.81" stroke="#111" stroke-width="1.6"/>
<line x1="265.69" y1="617.61" x2="268.09" y2="620.01" stroke="#111" stroke-width="1.4"/>
<text x="237.50" y="648.50" font-size="9.2" textLength="45.20" lengthAdjust="spacingAndGlyphs" fill="#222">30-120 min</text>
<text x="249.80" y="659.30" font-size="9.2" textLength="20.40" lengthAdjust="spacingAndGlyphs" fill="#222">24 hr</text>
<line x1="277.30" y1="630.80" x2="291.20" y2="630.80" stroke="#111" stroke-width="1.2"/>
<path d="M295.20,630.80 L288.20,628.00 L290.00,630.80 L288.20,633.60 Z" fill="#111"/>
<rect x="303.50" y="612.30" width="54.30" height="33.40" fill="#dcdcdf" stroke="#9a9a9e" stroke-width="0.9" />
<line x1="308.10" y1="617.40" x2="316.50" y2="617.40" stroke="#5c4a80" stroke-width="1.3"/>
<line x1="308.10" y1="623.10" x2="316.50" y2="623.10" stroke="#5c4a80" stroke-width="1.3"/>
<line x1="308.10" y1="629.20" x2="316.50" y2="629.20" stroke="#5c4a80" stroke-width="1.3"/>
<line x1="308.10" y1="635.10" x2="316.50" y2="635.10" stroke="#5c4a80" stroke-width="1.3"/>
<line x1="308.10" y1="641.10" x2="316.50" y2="641.10" stroke="#5c4a80" stroke-width="1.3"/>
<line x1="318.80" y1="619.70" x2="327.80" y2="619.70" stroke="#a52c3c" stroke-width="1.5"/>
<line x1="318.80" y1="623.80" x2="327.80" y2="623.80" stroke="#3f8a5c" stroke-width="1.5"/>
<line x1="331.90" y1="619.70" x2="340.80" y2="619.70" stroke="#a52c3c" stroke-width="1.5"/>
<line x1="331.90" y1="623.80" x2="340.80" y2="623.80" stroke="#3f8a5c" stroke-width="1.5"/>
<line x1="345.50" y1="619.70" x2="354.20" y2="619.70" stroke="#a52c3c" stroke-width="1.5"/>
<line x1="345.50" y1="623.80" x2="354.20" y2="623.80" stroke="#3f8a5c" stroke-width="1.5"/>
<text x="301.50" y="656.90" font-size="9.2" textLength="60.00" lengthAdjust="spacingAndGlyphs" fill="#222">Immunoblotting</text>
<text x="64.60" y="696.20" font-size="9.2" textLength="17.90" lengthAdjust="spacingAndGlyphs" fill="#222">Time</text>
<text x="57.50" y="705.20" font-size="9.2" textLength="25.00" lengthAdjust="spacingAndGlyphs" fill="#222">siRNA</text>
<text x="34.40" y="714.80" font-size="9.2" textLength="48.10" lengthAdjust="spacingAndGlyphs" fill="#222">γ Fibrinogen</text>
<text x="62.70" y="727.70" font-size="9.2" textLength="19.80" lengthAdjust="spacingAndGlyphs" fill="#222">Actin</text>
<text x="90.60" y="696.20" font-size="9.2" textLength="24.60" lengthAdjust="spacingAndGlyphs" fill="#222">30min</text>
<line x1="88.10" y1="698.50" x2="120.40" y2="698.50" stroke="#444" stroke-width="0.6"/>
<text x="88.40" y="703.80" font-size="3.6" textLength="31.70" lengthAdjust="spacingAndGlyphs" fill="#222">Control RUNX1</text>
<text x="134.40" y="696.20" font-size="9.2" textLength="12.90" lengthAdjust="spacingAndGlyphs" fill="#222">2hr</text>
<line x1="124.60" y1="698.50" x2="156.90" y2="698.50" stroke="#444" stroke-width="0.6"/>
<text x="124.90" y="703.80" font-size="3.6" textLength="31.70" lengthAdjust="spacingAndGlyphs" fill="#222">Control RUNX1</text>
<text x="168.70" y="696.20" font-size="9.2" textLength="17.80" lengthAdjust="spacingAndGlyphs" fill="#222">24hr</text>
<line x1="162.50" y1="698.50" x2="196.20" y2="698.50" stroke="#444" stroke-width="0.6"/>
<text x="162.80" y="703.80" font-size="3.6" textLength="33.10" lengthAdjust="spacingAndGlyphs" fill="#222">Control RUNX1</text>
<rect x="86.50" y="706.50" width="111.50" height="12.00" fill="#cdcdcd" stroke="#6a6a6a" stroke-width="0.8" />
<rect x="86.50" y="720.50" width="111.50" height="10.00" fill="#efefef" stroke="#6a6a6a" stroke-width="0.8" />
<rect x="87.80" y="707.00" width="15.00" height="11.00" fill="#b8b8b8" />
<rect x="88.4" y="709.8" width="13.8" height="6.2" rx="1.4" fill="#0a0a0a" filter="url(#bl2)"/>
<rect x="106.40" y="707.00" width="15.10" height="11.00" fill="#c4c4c4" />
<rect x="107.0" y="709.8" width="13.9" height="6.2" rx="1.4" fill="#a2a2a2" filter="url(#bl2)"/>
<rect x="124.90" y="707.00" width="14.80" height="11.00" fill="#b8b8b8" />
<rect x="125.5" y="709.8" width="13.6" height="6.2" rx="1.4" fill="#202020" filter="url(#bl2)"/>
<rect x="144.00" y="707.00" width="14.50" height="11.00" fill="#c0c0c0" />
<rect x="144.6" y="709.8" width="13.3" height="6.2" rx="1.4" fill="#8a8a8a" filter="url(#bl2)"/>
<rect x="163.00" y="707.00" width="13.60" height="11.00" fill="#a8a8a8" />
<rect x="163.6" y="709.8" width="12.4" height="6.2" rx="1.4" fill="#2c2c2c" filter="url(#bl2)"/>
<rect x="180.90" y="707.00" width="15.10" height="11.00" fill="#cacaca" />
<rect x="181.5" y="709.8" width="13.9" height="6.2" rx="1.4" fill="#bababa" filter="url(#bl2)"/>
<rect x="88.2" y="723.8" width="13.4" height="4.0" rx="1.5" fill="#161616" filter="url(#bl2)"/>
<rect x="106.6" y="723.8" width="14.4" height="4.0" rx="1.5" fill="#161616" filter="url(#bl2)"/>
<rect x="126.0" y="723.8" width="13.2" height="4.0" rx="1.5" fill="#161616" filter="url(#bl2)"/>
<rect x="144.6" y="723.8" width="13.7" height="4.0" rx="1.5" fill="#161616" filter="url(#bl2)"/>
<rect x="163.5" y="723.8" width="14.1" height="4.0" rx="1.5" fill="#161616" filter="url(#bl2)"/>
<rect x="183.0" y="723.8" width="13.4" height="4.0" rx="1.5" fill="#161616" filter="url(#bl2)"/>
<text x="201.90" y="715.80" font-size="9.2" textLength="27.90" lengthAdjust="spacingAndGlyphs" fill="#222">52 kDa</text>
<text x="201.90" y="728.30" font-size="9.2" textLength="27.90" lengthAdjust="spacingAndGlyphs" fill="#222">43 kDa</text>
<line x1="291.30" y1="683.15" x2="291.30" y2="746.80" stroke="#161616" stroke-width="1.2"/>
<line x1="288.30" y1="746.20" x2="291.30" y2="746.20" stroke="#161616" stroke-width="1"/>
<text x="272.20" y="749.10" font-size="8.4" textLength="11.80" lengthAdjust="spacingAndGlyphs" fill="#222">0.0</text>
<line x1="288.30" y1="725.35" x2="291.30" y2="725.35" stroke="#161616" stroke-width="1"/>
<text x="272.20" y="728.25" font-size="8.4" textLength="11.80" lengthAdjust="spacingAndGlyphs" fill="#222">0.5</text>
<line x1="288.30" y1="704.50" x2="291.30" y2="704.50" stroke="#161616" stroke-width="1"/>
<text x="272.20" y="707.40" font-size="8.4" textLength="11.80" lengthAdjust="spacingAndGlyphs" fill="#222">1.0</text>
<line x1="288.30" y1="683.65" x2="291.30" y2="683.65" stroke="#161616" stroke-width="1"/>
<text x="272.20" y="686.55" font-size="8.4" textLength="11.80" lengthAdjust="spacingAndGlyphs" fill="#222">1.5</text>
<line x1="291.30" y1="746.20" x2="413.80" y2="746.20" stroke="#161616" stroke-width="1.3"/>
<rect x="297.70" y="705.17" width="11.50" height="41.03" fill="#4a5568" />
<line x1="303.45" y1="705.17" x2="303.45" y2="702.60" stroke="#161616" stroke-width="1"/>
<line x1="300.25" y1="702.60" x2="306.65" y2="702.60" stroke="#161616" stroke-width="1.1"/>
<rect x="316.00" y="726.43" width="11.50" height="19.77" fill="#cc0a2a" />
<line x1="321.75" y1="726.43" x2="321.75" y2="725.60" stroke="#161616" stroke-width="1"/>
<line x1="318.55" y1="725.60" x2="324.95" y2="725.60" stroke="#161616" stroke-width="1.1"/>
<rect x="337.70" y="721.68" width="11.70" height="24.52" fill="#4a5568" />
<line x1="343.55" y1="721.68" x2="343.55" y2="717.30" stroke="#161616" stroke-width="1"/>
<line x1="340.35" y1="717.30" x2="346.75" y2="717.30" stroke="#161616" stroke-width="1.1"/>
<rect x="355.60" y="730.94" width="12.10" height="15.26" fill="#cc0a2a" />
<line x1="361.65" y1="730.94" x2="361.65" y2="730.20" stroke="#161616" stroke-width="1"/>
<line x1="358.45" y1="730.20" x2="364.85" y2="730.20" stroke="#161616" stroke-width="1.1"/>
<rect x="377.70" y="730.94" width="11.10" height="15.26" fill="#4a5568" />
<line x1="383.25" y1="730.94" x2="383.25" y2="730.20" stroke="#161616" stroke-width="1"/>
<line x1="380.05" y1="730.20" x2="386.45" y2="730.20" stroke="#161616" stroke-width="1.1"/>
<rect x="395.60" y="736.19" width="11.90" height="10.01" fill="#cc0a2a" />
<line x1="401.55" y1="736.19" x2="401.55" y2="735.50" stroke="#161616" stroke-width="1"/>
<line x1="398.35" y1="735.50" x2="404.75" y2="735.50" stroke="#161616" stroke-width="1.1"/>
<path d="M303.50,702.20 V696.90 H322.30 V721.50" stroke="#161616" stroke-width="1" fill="none" />
<path d="M343.50,716.80 V710.40 H361.70 V727.70" stroke="#161616" stroke-width="1" fill="none" />
<path d="M383.30,729.60 V721.50 H401.60 V735.00" stroke="#161616" stroke-width="1" fill="none" />
<line x1="312.70" y1="746.20" x2="312.70" y2="748.80" stroke="#161616" stroke-width="1"/>
<line x1="352.70" y1="746.20" x2="352.70" y2="748.80" stroke="#161616" stroke-width="1"/>
<line x1="392.10" y1="746.20" x2="392.10" y2="748.80" stroke="#161616" stroke-width="1"/>
<text x="295.80" y="695.00" font-size="8.6" textLength="32.70" lengthAdjust="spacingAndGlyphs" fill="#222"><tspan font-style="italic">P</tspan> &lt; .001</text>
<text x="335.00" y="707.70" font-size="8.6" textLength="32.10" lengthAdjust="spacingAndGlyphs" fill="#222"><tspan font-style="italic">P</tspan> &lt; .001</text>
<text x="377.30" y="719.20" font-size="8.6" textLength="27.30" lengthAdjust="spacingAndGlyphs" fill="#222"><tspan font-style="italic">P</tspan> &lt; .01</text>
<text transform="translate(251.90,730.10) rotate(-90)" x="0" y="0" font-size="10.4" textLength="34.50" lengthAdjust="spacingAndGlyphs" stroke="#222" stroke-width="0.33" fill="#222">Fibrinogen</text>
<text transform="translate(265.60,737.40) rotate(-90)" x="0" y="0" font-size="10.4" textLength="48.60" lengthAdjust="spacingAndGlyphs" stroke="#222" stroke-width="0.33" fill="#222">ratio to control</text>
<text x="307.30" y="761.00" font-size="8.3" textLength="10.60" lengthAdjust="spacingAndGlyphs" fill="#222">30</text>
<text x="350.40" y="761.00" font-size="8.3" textLength="5.20" lengthAdjust="spacingAndGlyphs" fill="#222">2</text>
<text x="387.70" y="761.00" font-size="8.3" textLength="9.60" lengthAdjust="spacingAndGlyphs" fill="#222">24</text>
<text x="328.10" y="775.40" font-size="10.0" textLength="49.20" lengthAdjust="spacingAndGlyphs" stroke="#222" stroke-width="0.33" fill="#222">Time in min/hr</text>
<text x="420.80" y="676.90" font-size="8.0" textLength="23.80" lengthAdjust="spacingAndGlyphs" fill="#222">siRNA</text>
<rect x="411.90" y="682.70" width="6.40" height="5.80" fill="#4a5568" />
<rect x="411.90" y="693.10" width="6.40" height="5.90" fill="#cc0a2a" />
<text x="421.50" y="687.90" font-size="8.6" textLength="27.50" lengthAdjust="spacingAndGlyphs" fill="#222">Control</text>
<text x="421.50" y="698.50" font-size="8.6" textLength="28.10" lengthAdjust="spacingAndGlyphs" fill="#222">RUNX1</text>
<text x="421.50" y="735.60" font-size="8.6" textLength="21.20" lengthAdjust="spacingAndGlyphs" fill="#222">N = 4</text>
<text x="421.50" y="746.00" font-size="8.6" textLength="48.10" lengthAdjust="spacingAndGlyphs" fill="#222">Mean ± SEM</text>
<rect x="0.5" y="0.5" width="519" height="786" fill="none" stroke="#474747" stroke-width="1"/>
</svg>
</body></html>
